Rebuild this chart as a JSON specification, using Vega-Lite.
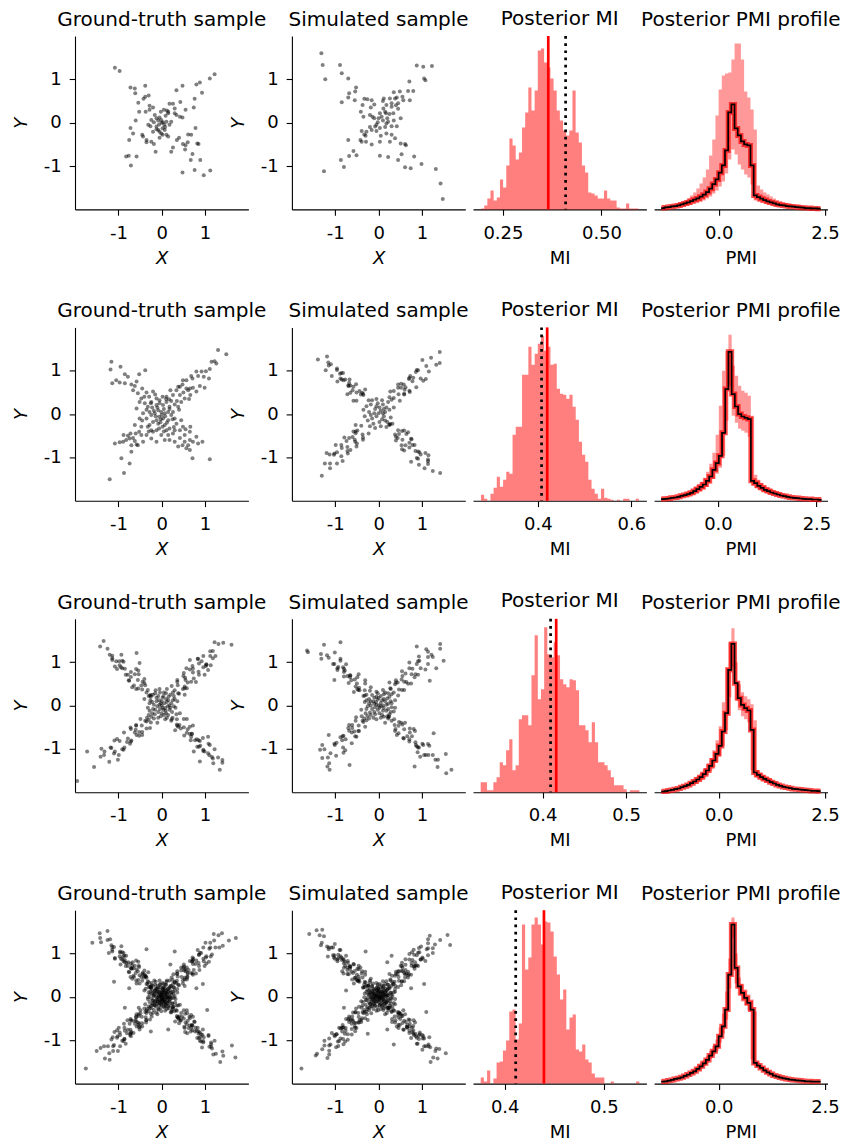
{
"$schema":"https://vega.github.io/schema/vega-lite/v6.json",
"padding":{"left":12,"top":8,"right":5,"bottom":5},
"config":{"font":"DejaVu Sans","view":{"stroke":null},
"axis":{"domainColor":"#000","domainWidth":1.1,"tickColor":"#000","tickWidth":1.1,"tickSize":5.8,"labelFontSize":18,"labelColor":"#000","titleFontSize":18,"titleColor":"#000","titleFontWeight":"normal","grid":false,"labelFont":"DejaVu Sans","titleFont":"DejaVu Sans","labelFlush":false,"labelOverlap":false},
"axisX":{"labelPadding":9,"titlePadding":7},
"axisY":{"labelPadding":8,"titlePadding":13},
"title":{"fontSize":20,"fontWeight":"normal","font":"DejaVu Sans","color":"#000","anchor":"middle","frame":"group","baseline":"alphabetic","offset":6},
"circle":{"color":"#000","opacity":0.5,"size":16,"strokeWidth":0}},
"vconcat":[
{"hconcat":[
{"title":"Ground-truth sample","width":173.4,"height":173.4,"data":{"values":[{"x":-1.08,"y":1.27},{"x":-0.97,"y":1.19},{"x":-0.72,"y":0.81},{"x":-0.62,"y":0.79},{"x":-0.61,"y":0.68},{"x":-0.38,"y":0.85},{"x":-0.54,"y":0.46},{"x":-0.42,"y":0.55},{"x":-0.3,"y":0.63},{"x":-0.28,"y":0.39},{"x":-0.37,"y":0.25},{"x":-0.52,"y":0.25},{"x":0.8,"y":0.88},{"x":0.88,"y":0.93},{"x":1.11,"y":1.02},{"x":1.22,"y":1.12},{"x":0.48,"y":0.85},{"x":0.34,"y":0.75},{"x":0.93,"y":0.69},{"x":0.76,"y":0.55},{"x":0.74,"y":0.35},{"x":0.43,"y":0.48},{"x":0.26,"y":0.44},{"x":0.18,"y":0.44},{"x":0.3,"y":0.33},{"x":0.15,"y":0.25},{"x":0.42,"y":0.14},{"x":0.48,"y":0.12},{"x":0.34,"y":0.18},{"x":-0.72,"y":-0.12},{"x":-0.66,"y":-0.25},{"x":-0.75,"y":-0.4},{"x":-0.82,"y":-0.78},{"x":-0.76,"y":-0.76},{"x":-0.58,"y":-0.78},{"x":-0.71,"y":-0.99},{"x":-0.35,"y":-0.4},{"x":-0.24,"y":-0.44},{"x":-0.35,"y":-0.45},{"x":-0.18,"y":-0.49},{"x":-0.14,"y":-0.67},{"x":-0.43,"y":-0.32},{"x":0.78,"y":-0.12},{"x":0.61,"y":-0.27},{"x":0.68,"y":-0.28},{"x":0.82,"y":-0.48},{"x":0.49,"y":-0.49},{"x":0.54,"y":-0.62},{"x":0.55,"y":-0.52},{"x":0.26,"y":-0.57},{"x":0.22,"y":-0.67},{"x":0.85,"y":-0.49},{"x":0.71,"y":-0.72},{"x":0.67,"y":-0.86},{"x":0.89,"y":-0.86},{"x":0.48,"y":-1.15},{"x":0.76,"y":-1.09},{"x":0.97,"y":-1.21},{"x":1.12,"y":-1.1},{"x":-0.24,"y":0.06},{"x":-0.12,"y":0.1},{"x":-0.05,"y":0.12},{"x":-0.01,"y":0.06},{"x":0.03,"y":0.01},{"x":-0.06,"y":-0.04},{"x":-0.12,"y":-0.09},{"x":0.02,"y":-0.13},{"x":0.07,"y":-0.17},{"x":-0.05,"y":-0.21},{"x":-0.01,"y":-0.25},{"x":0.11,"y":0.02},{"x":0.18,"y":-0.05},{"x":-0.16,"y":0.18},{"x":-0.18,"y":0.01},{"x":-0.26,"y":-0.08},{"x":-0.31,"y":-0.05},{"x":-0.2,"y":-0.21},{"x":-0.08,"y":-0.17},{"x":0.06,"y":-0.05},{"x":0.15,"y":0.22},{"x":0.09,"y":0.16},{"x":0.22,"y":0.02},{"x":0.3,"y":0.22},{"x":0.11,"y":-0.28},{"x":0.15,"y":-0.32},{"x":0.02,"y":-0.28},{"x":-0.45,"y":-0.28},{"x":-0.28,"y":0.3},{"x":-0.2,"y":0.35},{"x":0.05,"y":0.3},{"x":0.12,"y":0.28},{"x":-0.02,"y":0.25},{"x":0.35,"y":-0.4},{"x":0.4,"y":-0.35},{"x":-0.05,"y":-0.35},{"x":0,"y":0},{"x":-0.08,"y":0.05},{"x":0.08,"y":-0.1},{"x":0.6,"y":-0.45},{"x":0.55,"y":0.3},{"x":-0.6,"y":0.05},{"x":-0.38,"y":0.6},{"x":-0.12,"y":-0.15}]},
"mark":{"type":"circle"},
"encoding":{"x":{"field":"x","type":"quantitative","scale":{"domain":[-2,2],"nice":false,"zero":false},"axis":{"values":[-1,0,1],"title":"X","titleFontStyle":"italic","labelExpr":"replace(datum.label,'−','-')"}},"y":{"field":"y","type":"quantitative","scale":{"domain":[-2,2],"nice":false,"zero":false},"axis":{"values":[-1,0,1],"title":"Y","titleFontStyle":"italic","labelExpr":"replace(datum.label,'−','-')"}}}},
{"hconcat":[
{"title":"Simulated sample","width":173.4,"height":173.4,"data":{"values":[{"x":-1.32,"y":1.6},{"x":-1.29,"y":1.33},{"x":-1.23,"y":1},{"x":-0.89,"y":1.33},{"x":-0.85,"y":1.14},{"x":-0.7,"y":1.02},{"x":-0.52,"y":0.81},{"x":-0.54,"y":0.72},{"x":-0.68,"y":0.68},{"x":-0.7,"y":0.58},{"x":-0.85,"y":0.47},{"x":-0.55,"y":0.52},{"x":-0.33,"y":0.55},{"x":-0.26,"y":0.54},{"x":-0.37,"y":0.41},{"x":-0.16,"y":0.52},{"x":-0.1,"y":0.42},{"x":-0.18,"y":0.35},{"x":-0.41,"y":0.25},{"x":-0.35,"y":0.14},{"x":-0.2,"y":0.18},{"x":-0.14,"y":0.14},{"x":0.88,"y":1.32},{"x":1.03,"y":1.29},{"x":1.23,"y":1.31},{"x":1.05,"y":1.02},{"x":1.08,"y":0.98},{"x":0.71,"y":0.95},{"x":0.68,"y":0.73},{"x":0.8,"y":0.73},{"x":0.49,"y":0.72},{"x":0.35,"y":0.7},{"x":0.42,"y":0.58},{"x":0.26,"y":0.56},{"x":0.38,"y":0.56},{"x":0.57,"y":0.52},{"x":0.72,"y":0.52},{"x":0.12,"y":0.56},{"x":0.18,"y":0.41},{"x":0.3,"y":0.37},{"x":0.45,"y":0.32},{"x":0.34,"y":0.22},{"x":0.15,"y":0.25},{"x":0.07,"y":0.14},{"x":0.22,"y":0.02},{"x":0.18,"y":-0.02},{"x":-0.02,"y":0.01},{"x":-0.08,"y":-0.09},{"x":-0.05,"y":-0.05},{"x":0.03,"y":-0.12},{"x":-0.16,"y":-0.17},{"x":-0.28,"y":-0.21},{"x":-0.39,"y":-0.19},{"x":-0.33,"y":-0.27},{"x":-0.42,"y":-0.4},{"x":-0.39,"y":-0.44},{"x":-0.29,"y":-0.44},{"x":-0.16,"y":-0.5},{"x":0.03,"y":-0.44},{"x":0.18,"y":-0.25},{"x":0.3,"y":-0.08},{"x":0.42,"y":-0.08},{"x":0.3,"y":-0.28},{"x":0.38,"y":-0.36},{"x":0.51,"y":-0.48},{"x":0.61,"y":-0.49},{"x":0.63,"y":-0.52},{"x":0.26,"y":-0.44},{"x":0.53,"y":-0.73},{"x":0.45,"y":-0.86},{"x":0.61,"y":-1.03},{"x":0.74,"y":-1.05},{"x":0.82,"y":-0.78},{"x":0.99,"y":-0.95},{"x":1.32,"y":-1.07},{"x":1.43,"y":-1.4},{"x":1.48,"y":-1.76},{"x":0.03,"y":-0.76},{"x":0.22,"y":-0.79},{"x":-0.7,"y":-0.4},{"x":-0.58,"y":-0.65},{"x":-0.51,"y":-0.75},{"x":-0.68,"y":-0.77},{"x":-0.87,"y":-0.86},{"x":-0.8,"y":-1.02},{"x":-1.26,"y":-1.12},{"x":0.51,"y":0.1},{"x":-0.05,"y":-0.19},{"x":0.11,"y":0.33},{"x":0.17,"y":0.22},{"x":0.03,"y":0.22},{"x":0,"y":0.1},{"x":0.1,"y":0.05},{"x":0.2,"y":0.1},{"x":0.15,"y":-0.1},{"x":-0.1,"y":0.1},{"x":0.05,"y":-0.3},{"x":0.25,"y":0.2},{"x":0.4,"y":0.4},{"x":-0.2,"y":-0.1},{"x":0.35,"y":0.05},{"x":0.45,"y":0.45},{"x":0.3,"y":0.45},{"x":0.1,"y":0.5},{"x":-0.3,"y":-0.3},{"x":0.55,"y":0.6}]},
"mark":{"type":"circle"},
"encoding":{"x":{"field":"x","type":"quantitative","scale":{"domain":[-2,2],"nice":false,"zero":false},"axis":{"values":[-1,0,1],"title":"X","titleFontStyle":"italic","labelExpr":"replace(datum.label,'−','-')"}},"y":{"field":"y","type":"quantitative","scale":{"domain":[-2,2],"nice":false,"zero":false},"axis":{"values":[-1,0,1],"title":"Y","titleFontStyle":"italic","labelExpr":"replace(datum.label,'−','-')"}}}},
{"title":"Posterior MI","width":173.4,"height":173.4,"layer":[
{"data":{"values":[{"e":0.1944,"n":1},{"e":0.2024,"n":4},{"e":0.2104,"n":11},{"e":0.2184,"n":19},{"e":0.2264,"n":9},{"e":0.2344,"n":12},{"e":0.2424,"n":30},{"e":0.2504,"n":22},{"e":0.2584,"n":44},{"e":0.2664,"n":71},{"e":0.2744,"n":64},{"e":0.2824,"n":50},{"e":0.2904,"n":57},{"e":0.2984,"n":82},{"e":0.3064,"n":97},{"e":0.3144,"n":122},{"e":0.3224,"n":99},{"e":0.3304,"n":119},{"e":0.3384,"n":159},{"e":0.3464,"n":161},{"e":0.3544,"n":147},{"e":0.3624,"n":142},{"e":0.3704,"n":131},{"e":0.3784,"n":119},{"e":0.3864,"n":99},{"e":0.3944,"n":89},{"e":0.4024,"n":79},{"e":0.4104,"n":74},{"e":0.4184,"n":79},{"e":0.4264,"n":119},{"e":0.4344,"n":77},{"e":0.4424,"n":67},{"e":0.4504,"n":44},{"e":0.4584,"n":37},{"e":0.4664,"n":17},{"e":0.4744,"n":16},{"e":0.4824,"n":14},{"e":0.4904,"n":11},{"e":0.4984,"n":11},{"e":0.5064,"n":19},{"e":0.5144,"n":11},{"e":0.5224,"n":9},{"e":0.5304,"n":9},{"e":0.5384,"n":2},{"e":0.5464,"n":1},{"e":0.5544,"n":1},{"e":0.5624,"n":6},{"e":0.5704,"n":1},{"e":0.5784,"n":1},{"e":0.5864,"n":1},{"e":0.5944,"n":1}]},
"mark":{"type":"area","interpolate":"step-after","color":"#ff0000","opacity":0.5},
"encoding":{"x":{"field":"e","type":"quantitative","scale":{"domain":[0.174,0.614],"nice":false,"zero":false},"axis":{"values":[0.25,0.5],"format":".2f","title":"MI"}},"y":{"field":"n","type":"quantitative","scale":{"domain":[0,173.4],"nice":false},"axis":null}}},
{"data":{"values":[{"m":0.365}]},"mark":{"type":"rule","color":"#ff0000","strokeWidth":2.7},"encoding":{"x":{"field":"m","type":"quantitative"}}},
{"data":{"values":[{"m":0.409}]},"mark":{"type":"rule","color":"#000","strokeWidth":2.7,"strokeDash":[2.7,4.5]},"encoding":{"x":{"field":"m","type":"quantitative"}}}]},
{"title":"Posterior PMI profile","width":173.4,"height":173.4,
"data":{"values":[{"v":-1.352,"k":1.3,"lo":0.7,"hi":2.2},{"v":-1.277,"k":2,"lo":1,"hi":3},{"v":-1.202,"k":2.3,"lo":1.2,"hi":3.5},{"v":-1.127,"k":3,"lo":1.6,"hi":4.3},{"v":-1.052,"k":3.3,"lo":1.8,"hi":5},{"v":-0.977,"k":4,"lo":2.2,"hi":6.5},{"v":-0.902,"k":5,"lo":2.8,"hi":7.5},{"v":-0.827,"k":6,"lo":3.4,"hi":9},{"v":-0.752,"k":7,"lo":4,"hi":11},{"v":-0.677,"k":8.3,"lo":4.8,"hi":14},{"v":-0.602,"k":9.7,"lo":5.6,"hi":17},{"v":-0.527,"k":11,"lo":6.5,"hi":21},{"v":-0.452,"k":12.7,"lo":7.5,"hi":26},{"v":-0.377,"k":14.7,"lo":9,"hi":32},{"v":-0.302,"k":17.3,"lo":11,"hi":40},{"v":-0.227,"k":20.7,"lo":13,"hi":54},{"v":-0.152,"k":25.3,"lo":16,"hi":70},{"v":-0.077,"k":30,"lo":19,"hi":94},{"v":-0.002,"k":36.7,"lo":23,"hi":120},{"v":0.073,"k":44,"lo":28,"hi":134},{"v":0.148,"k":59,"lo":36,"hi":136},{"v":0.223,"k":97,"lo":50,"hi":137},{"v":0.298,"k":105,"lo":60,"hi":150},{"v":0.373,"k":81,"lo":55,"hi":166},{"v":0.448,"k":74,"lo":45,"hi":166},{"v":0.523,"k":68,"lo":40,"hi":150},{"v":0.598,"k":65,"lo":35,"hi":118},{"v":0.673,"k":64,"lo":32,"hi":112},{"v":0.748,"k":44,"lo":25,"hi":100},{"v":0.823,"k":14,"lo":9,"hi":80},{"v":0.898,"k":12.3,"lo":7.5,"hi":24},{"v":0.973,"k":10.7,"lo":6.5,"hi":20},{"v":1.048,"k":9.3,"lo":5.8,"hi":17},{"v":1.123,"k":8,"lo":5,"hi":15},{"v":1.198,"k":7,"lo":4.3,"hi":13},{"v":1.273,"k":6,"lo":3.7,"hi":11},{"v":1.348,"k":5,"lo":3.2,"hi":9.5},{"v":1.423,"k":4.3,"lo":2.8,"hi":8.3},{"v":1.498,"k":4,"lo":2.4,"hi":7.2},{"v":1.573,"k":3.3,"lo":2,"hi":6.3},{"v":1.648,"k":3,"lo":1.8,"hi":5.6},{"v":1.723,"k":2.7,"lo":1.6,"hi":4.9},{"v":1.798,"k":2.3,"lo":1.4,"hi":4.3},{"v":1.873,"k":2,"lo":1.2,"hi":3.8},{"v":1.948,"k":1.7,"lo":1,"hi":3.4},{"v":2.023,"k":1.3,"lo":0.8,"hi":3},{"v":2.098,"k":1.3,"lo":0.7,"hi":2.7},{"v":2.173,"k":1,"lo":0.6,"hi":2.4},{"v":2.248,"k":1,"lo":0.5,"hi":2.1},{"v":2.323,"k":0.7,"lo":0.4,"hi":1.9},{"v":2.398,"k":0.7,"lo":0.4,"hi":1.9}]},
"encoding":{"x":{"field":"v","type":"quantitative","scale":{"domain":[-1.52,2.56],"nice":false,"zero":false},"axis":{"values":[0,2.5],"format":".1f","title":"PMI"}}},
"layer":[
{"mark":{"type":"area","interpolate":"step-after","color":"#ff0000","opacity":0.4},"encoding":{"y":{"field":"hi","type":"quantitative","scale":{"domain":[0,173.4],"nice":false},"axis":null},"y2":{"field":"lo"}}},
{"mark":{"type":"line","interpolate":"step-after","color":"#ff0000","strokeWidth":5,"opacity":0.7},"encoding":{"y":{"field":"k","type":"quantitative","axis":null}}},
{"mark":{"type":"line","interpolate":"step-after","color":"#000","strokeWidth":1.7},"encoding":{"y":{"field":"k","type":"quantitative","axis":null}}}]}
],"spacing":7.1,"bounds":"flush"}
],"spacing":42.9,"bounds":"flush"},
{"hconcat":[
{"title":"Ground-truth sample","width":173.4,"height":173.4,"data":{"values":[{"x":1.3,"y":1.48},{"x":1.49,"y":1.38},{"x":1.15,"y":1.21},{"x":1.22,"y":1.22},{"x":1.26,"y":1.17},{"x":1.11,"y":1.04},{"x":1.02,"y":0.99},{"x":0.92,"y":0.98},{"x":0.8,"y":0.98},{"x":0.97,"y":0.86},{"x":1.09,"y":0.82},{"x":0.84,"y":0.88},{"x":0.68,"y":0.88},{"x":0.71,"y":0.82},{"x":0.57,"y":0.78},{"x":0.49,"y":0.78},{"x":0.48,"y":0.68},{"x":0.42,"y":0.63},{"x":0.34,"y":0.55},{"x":0.2,"y":0.55},{"x":0.26,"y":0.44},{"x":0.11,"y":0.4},{"x":0.17,"y":0.34},{"x":0.42,"y":0.44},{"x":0.53,"y":0.36},{"x":0.63,"y":0.35},{"x":0.61,"y":0.55},{"x":0.38,"y":0.63},{"x":0.57,"y":0.59},{"x":0.65,"y":0.59},{"x":0.72,"y":0.61},{"x":0.99,"y":0.61},{"x":0.88,"y":0.65},{"x":0.8,"y":0.52},{"x":0.66,"y":0.44},{"x":0.45,"y":0.28},{"x":0.3,"y":0.22},{"x":0.38,"y":0.17},{"x":-1.16,"y":1.21},{"x":-1.18,"y":1.03},{"x":-0.95,"y":1.09},{"x":-0.85,"y":0.92},{"x":-0.78,"y":0.86},{"x":-1.14,"y":0.71},{"x":-1.05,"y":0.78},{"x":-0.97,"y":0.73},{"x":-0.85,"y":0.71},{"x":-0.7,"y":0.68},{"x":-0.62,"y":0.65},{"x":-0.52,"y":0.92},{"x":-0.38,"y":1.01},{"x":-0.58,"y":0.75},{"x":-0.66,"y":0.55},{"x":-0.55,"y":0.48},{"x":-0.47,"y":0.36},{"x":-0.35,"y":0.5},{"x":-0.45,"y":0.59},{"x":-0.29,"y":0.4},{"x":-0.2,"y":0.52},{"x":-0.51,"y":0.28},{"x":-0.39,"y":0.25},{"x":-0.58,"y":0.13},{"x":-0.32,"y":0.17},{"x":-0.24,"y":0.28},{"x":-0.12,"y":0.36},{"x":-0.12,"y":0.21},{"x":-0.05,"y":0.25},{"x":0.03,"y":0.21},{"x":0.11,"y":0.28},{"x":0.18,"y":0.17},{"x":-0.08,"y":0.09},{"x":-0.01,"y":0.05},{"x":0.07,"y":0.02},{"x":-0.16,"y":0.02},{"x":-0.24,"y":-0.02},{"x":-0.06,"y":-0.06},{"x":0.03,"y":-0.1},{"x":-0.12,"y":-0.14},{"x":-0.03,"y":-0.19},{"x":0.07,"y":-0.25},{"x":0.15,"y":-0.14},{"x":0.22,"y":-0.02},{"x":-0.2,"y":-0.18},{"x":-0.28,"y":-0.25},{"x":-0.35,"y":-0.1},{"x":0.02,"y":-0.29},{"x":-0.06,"y":-0.33},{"x":-0.12,"y":-0.37},{"x":0.11,"y":-0.37},{"x":0.18,"y":-0.33},{"x":-0.2,"y":-0.41},{"x":-0.28,"y":0.05},{"x":-0.43,"y":0.02},{"x":0.26,"y":0.05},{"x":0.3,"y":-0.1},{"x":0.34,"y":-0.22},{"x":-1.2,"y":-1.5},{"x":-0.87,"y":-1.36},{"x":-0.74,"y":-1.14},{"x":-0.93,"y":-1.02},{"x":-0.7,"y":-0.87},{"x":-1.08,"y":-0.68},{"x":-0.97,"y":-0.65},{"x":-0.89,"y":-0.64},{"x":-0.82,"y":-0.6},{"x":-0.88,"y":-0.48},{"x":-0.78,"y":-0.5},{"x":-0.72,"y":-0.45},{"x":-0.74,"y":-0.56},{"x":-0.66,"y":-0.55},{"x":-0.58,"y":-0.7},{"x":-0.62,"y":-0.62},{"x":-0.7,"y":-0.72},{"x":-0.52,"y":-0.41},{"x":-0.43,"y":-0.64},{"x":-0.35,"y":-0.48},{"x":-0.47,"y":-0.48},{"x":-0.24,"y":-0.56},{"x":-0.12,"y":-0.64},{"x":-0.24,"y":-0.37},{"x":-0.62,"y":-0.25},{"x":-0.47,"y":-0.29},{"x":-0.32,"y":-0.29},{"x":-0.51,"y":-0.1},{"x":-0.55,"y":-0.72},{"x":1.11,"y":-1.04},{"x":0.71,"y":-1.02},{"x":0.94,"y":-0.64},{"x":0.84,"y":-0.68},{"x":0.65,"y":-0.6},{"x":0.66,"y":-0.29},{"x":0.65,"y":-0.41},{"x":0.53,"y":-0.48},{"x":0.42,"y":-0.55},{"x":0.3,"y":-0.64},{"x":0.18,"y":-0.6},{"x":0.38,"y":-0.75},{"x":0.48,"y":-0.72},{"x":0.57,"y":-0.79},{"x":0.65,"y":-0.83},{"x":0.61,"y":-0.72},{"x":0.53,"y":-0.64},{"x":0.26,"y":-0.45},{"x":0.15,"y":-0.48},{"x":0.42,"y":-0.37},{"x":0.49,"y":-0.29},{"x":0.3,"y":-0.37},{"x":0.45,"y":-0.14},{"x":0.72,"y":-0.64},{"x":0.07,"y":-0.6},{"x":-0.01,"y":-0.48},{"x":0.8,"y":-0.52},{"x":0.05,"y":0.12},{"x":-0.1,"y":0.15},{"x":0.15,"y":0.05},{"x":-0.18,"y":0.08},{"x":0,"y":-0.02},{"x":-0.05,"y":0.32},{"x":0.22,"y":0.3},{"x":0.08,"y":-0.05},{"x":-0.14,"y":-0.05},{"x":0.12,"y":-0.2},{"x":-0.22,"y":0.15},{"x":0.35,"y":0.3},{"x":-0.4,"y":0.4},{"x":0.28,"y":-0.3},{"x":-0.3,"y":-0.4},{"x":0.02,"y":0.4},{"x":-0.08,"y":-0.22},{"x":0.18,"y":0.12},{"x":-0.25,"y":0.25},{"x":0.4,"y":0.1},{"x":0.1,"y":0.35},{"x":-0.02,"y":-0.12},{"x":-0.35,"y":0.1},{"x":0.25,"y":-0.12},{"x":-0.45,"y":-0.15},{"x":0.05,"y":-0.4},{"x":-0.15,"y":0.45},{"x":0.5,"y":0.5},{"x":-0.6,"y":-0.45},{"x":0.55,"y":-0.35}]},
"mark":{"type":"circle"},
"encoding":{"x":{"field":"x","type":"quantitative","scale":{"domain":[-2,2],"nice":false,"zero":false},"axis":{"values":[-1,0,1],"title":"X","titleFontStyle":"italic","labelExpr":"replace(datum.label,'−','-')"}},"y":{"field":"y","type":"quantitative","scale":{"domain":[-2,2],"nice":false,"zero":false},"axis":{"values":[-1,0,1],"title":"Y","titleFontStyle":"italic","labelExpr":"replace(datum.label,'−','-')"}}}},
{"hconcat":[
{"title":"Simulated sample","width":173.4,"height":173.4,"data":{"values":[{"x":-0.4,"y":-0.27},{"x":-0.23,"y":-0.45},{"x":-0.53,"y":-0.25},{"x":-0.37,"y":-0.47},{"x":-0.53,"y":-0.44},{"x":-0.36,"y":-0.59},{"x":-0.49,"y":-0.38},{"x":-0.36,"y":-0.54},{"x":-0.58,"y":-0.4},{"x":-0.68,"y":-0.55},{"x":-0.5,"y":-0.68},{"x":-0.6,"y":-0.53},{"x":-0.51,"y":-0.75},{"x":-0.74,"y":-0.62},{"x":-0.72,"y":-0.76},{"x":-0.55,"y":-0.59},{"x":-0.85,"y":-0.78},{"x":-0.71,"y":-0.91},{"x":-0.86,"y":-0.71},{"x":-0.72,"y":-0.85},{"x":-0.99,"y":-0.71},{"x":-0.86,"y":-0.97},{"x":-1.02,"y":-0.91},{"x":-0.83,"y":-1.08},{"x":-1.03,"y":-0.94},{"x":-0.96,"y":-1.14},{"x":-1.13,"y":-0.93},{"x":-1.24,"y":-1.14},{"x":-1.12,"y":-1.25},{"x":-1.12,"y":-1.14},{"x":-1.31,"y":-1.42},{"x":-0.53,"y":-0.4},{"x":-0.54,"y":-0.64},{"x":-0.79,"y":-0.54},{"x":-0.65,"y":-0.83},{"x":-0.96,"y":-0.88},{"x":0.27,"y":-0.23},{"x":0.45,"y":-0.37},{"x":0.25,"y":-0.24},{"x":0.47,"y":-0.46},{"x":0.44,"y":-0.55},{"x":0.59,"y":-0.38},{"x":0.38,"y":-0.47},{"x":0.54,"y":-0.39},{"x":0.4,"y":-0.61},{"x":0.55,"y":-0.59},{"x":0.68,"y":-0.42},{"x":0.53,"y":-0.72},{"x":0.75,"y":-0.57},{"x":0.62,"y":-0.72},{"x":0.76,"y":-0.58},{"x":0.59,"y":-0.84},{"x":0.78,"y":-0.71},{"x":0.91,"y":-0.86},{"x":0.71,"y":-0.66},{"x":0.85,"y":-0.85},{"x":0.71,"y":-0.77},{"x":0.97,"y":-0.93},{"x":0.91,"y":-1.03},{"x":1.08,"y":-0.9},{"x":0.94,"y":-0.88},{"x":1.14,"y":-1.05},{"x":0.93,"y":-1.17},{"x":1.14,"y":-1.09},{"x":1.25,"y":-1.31},{"x":1.14,"y":-1.15},{"x":1.42,"y":-1.36},{"x":0.4,"y":-0.52},{"x":0.64,"y":-0.46},{"x":0.54,"y":-0.81},{"x":0.83,"y":-0.71},{"x":0.88,"y":-1.01},{"x":0.25,"y":0.39},{"x":0.35,"y":0.37},{"x":0.27,"y":0.52},{"x":0.49,"y":0.31},{"x":0.46,"y":0.46},{"x":0.3,"y":0.33},{"x":0.59,"y":0.47},{"x":0.45,"y":0.61},{"x":0.59,"y":0.45},{"x":0.45,"y":0.68},{"x":0.71,"y":0.54},{"x":0.58,"y":0.68},{"x":0.72,"y":0.51},{"x":0.52,"y":0.7},{"x":0.71,"y":0.83},{"x":0.62,"y":0.62},{"x":0.78,"y":0.76},{"x":0.87,"y":0.62},{"x":0.73,"y":0.88},{"x":0.7,"y":0.81},{"x":0.86,"y":0.97},{"x":0.97,"y":0.82},{"x":0.88,"y":1.02},{"x":1.09,"y":0.81},{"x":0.91,"y":1.01},{"x":1.1,"y":1.11},{"x":1.16,"y":0.98},{"x":1.01,"y":1.25},{"x":1.33,"y":1.14},{"x":1.21,"y":1.3},{"x":1.41,"y":1.18},{"x":0.35,"y":0.53},{"x":0.6,"y":0.56},{"x":0.52,"y":0.61},{"x":0.8,"y":0.84},{"x":1.03,"y":0.77},{"x":-0.36,"y":0.47},{"x":-0.23,"y":0.32},{"x":-0.38,"y":0.49},{"x":-0.51,"y":0.31},{"x":-0.35,"y":0.44},{"x":-0.58,"y":0.31},{"x":-0.44,"y":0.53},{"x":-0.58,"y":0.63},{"x":-0.41,"y":0.45},{"x":-0.6,"y":0.55},{"x":-0.72,"y":0.46},{"x":-0.52,"y":0.69},{"x":-0.65,"y":0.66},{"x":-0.51,"y":0.5},{"x":-0.77,"y":0.8},{"x":-0.69,"y":0.65},{"x":-0.85,"y":0.8},{"x":-0.7,"y":0.66},{"x":-0.89,"y":0.93},{"x":-0.67,"y":0.8},{"x":-0.86,"y":0.95},{"x":-0.95,"y":0.75},{"x":-0.82,"y":0.95},{"x":-1.08,"y":0.88},{"x":-0.96,"y":1.05},{"x":-1.1,"y":1.15},{"x":-0.96,"y":1.02},{"x":-1.22,"y":1.01},{"x":-1.16,"y":1.19},{"x":-1.19,"y":1.33},{"x":-1.4,"y":1.26},{"x":-0.31,"y":0.57},{"x":-0.65,"y":0.49},{"x":-0.68,"y":0.72},{"x":-0.88,"y":0.82},{"x":-0.81,"y":0.78},{"x":1.41,"y":1.43},{"x":-1.15,"y":1.12},{"x":1.06,"y":-1.25},{"x":-1.2,"y":-0.9},{"x":0.75,"y":-1.1},{"x":1.15,"y":-0.95},{"x":0.05,"y":0.08},{"x":-0.08,"y":0.12},{"x":0.12,"y":-0.05},{"x":-0.15,"y":-0.1},{"x":0.02,"y":-0.18},{"x":0.18,"y":0.15},{"x":-0.22,"y":0.05},{"x":0.1,"y":0.22},{"x":-0.05,"y":-0.05},{"x":0.2,"y":-0.18},{"x":-0.18,"y":0.22},{"x":0,"y":0.02},{"x":0.08,"y":-0.12},{"x":-0.12,"y":-0.22},{"x":0.15,"y":0.05},{"x":-0.25,"y":-0.15},{"x":0.22,"y":0.28},{"x":-0.02,"y":0.25},{"x":0.28,"y":-0.08},{"x":-0.28,"y":0.18},{"x":0.12,"y":0.12},{"x":-0.1,"y":0.02},{"x":0.05,"y":-0.28},{"x":-0.2,"y":-0.28},{"x":0.25,"y":0.1},{"x":-0.05,"y":0.35},{"x":0.32,"y":-0.22},{"x":-0.32,"y":-0.05},{"x":0.02,"y":0.15},{"x":-0.15,"y":0.32},{"x":0.18,"y":-0.3},{"x":0.08,"y":0.32},{"x":-0.08,"y":-0.32},{"x":0.35,"y":0.15},{"x":-0.35,"y":0.1},{"x":0.15,"y":-0.15},{"x":-0.05,"y":0.18},{"x":0.1,"y":0.02},{"x":-0.18,"y":-0.02},{"x":0.25,"y":-0.25}]},
"mark":{"type":"circle"},
"encoding":{"x":{"field":"x","type":"quantitative","scale":{"domain":[-2,2],"nice":false,"zero":false},"axis":{"values":[-1,0,1],"title":"X","titleFontStyle":"italic","labelExpr":"replace(datum.label,'−','-')"}},"y":{"field":"y","type":"quantitative","scale":{"domain":[-2,2],"nice":false,"zero":false},"axis":{"values":[-1,0,1],"title":"Y","titleFontStyle":"italic","labelExpr":"replace(datum.label,'−','-')"}}}},
{"title":"Posterior MI","width":173.4,"height":173.4,"layer":[
{"data":{"values":[{"e":0.2785,"n":6},{"e":0.2853,"n":2},{"e":0.292,"n":0},{"e":0.2988,"n":7},{"e":0.3055,"n":13},{"e":0.3123,"n":24},{"e":0.319,"n":14},{"e":0.3258,"n":21},{"e":0.3325,"n":29},{"e":0.3393,"n":27},{"e":0.346,"n":66},{"e":0.3528,"n":74},{"e":0.3595,"n":74},{"e":0.3663,"n":126},{"e":0.373,"n":126},{"e":0.3798,"n":154},{"e":0.3865,"n":136},{"e":0.3933,"n":147},{"e":0.4,"n":157},{"e":0.4068,"n":165},{"e":0.4135,"n":150},{"e":0.4203,"n":154},{"e":0.427,"n":136},{"e":0.4338,"n":137},{"e":0.4405,"n":112},{"e":0.4473,"n":107},{"e":0.454,"n":106},{"e":0.4608,"n":102},{"e":0.4675,"n":106},{"e":0.4743,"n":94},{"e":0.481,"n":81},{"e":0.4878,"n":59},{"e":0.4945,"n":46},{"e":0.5013,"n":39},{"e":0.508,"n":21},{"e":0.5148,"n":12},{"e":0.5215,"n":7},{"e":0.5283,"n":2},{"e":0.535,"n":12},{"e":0.5418,"n":3},{"e":0.5485,"n":2},{"e":0.5553,"n":1},{"e":0.562,"n":0},{"e":0.5688,"n":1},{"e":0.5755,"n":0},{"e":0.5823,"n":2},{"e":0.589,"n":2},{"e":0.5958,"n":0},{"e":0.6025,"n":0},{"e":0.6093,"n":2},{"e":0.616,"n":2}]},
"mark":{"type":"area","interpolate":"step-after","color":"#ff0000","opacity":0.5},
"encoding":{"x":{"field":"e","type":"quantitative","scale":{"domain":[0.2615,0.632],"nice":false,"zero":false},"axis":{"values":[0.4,0.6],"format":".1f","title":"MI"}},"y":{"field":"n","type":"quantitative","scale":{"domain":[0,173.4],"nice":false},"axis":null}}},
{"data":{"values":[{"m":0.42}]},"mark":{"type":"rule","color":"#ff0000","strokeWidth":2.7},"encoding":{"x":{"field":"m","type":"quantitative"}}},
{"data":{"values":[{"m":0.408}]},"mark":{"type":"rule","color":"#000","strokeWidth":2.7,"strokeDash":[2.7,4.5]},"encoding":{"x":{"field":"m","type":"quantitative"}}}]},
{"title":"Posterior PMI profile","width":173.4,"height":173.4,
"data":{"values":[{"v":-1.443,"k":1.7,"lo":1,"hi":2.6},{"v":-1.362,"k":2,"lo":1.2,"hi":3},{"v":-1.28,"k":2.3,"lo":1.4,"hi":3.4},{"v":-1.199,"k":3,"lo":1.8,"hi":4.2},{"v":-1.117,"k":3.3,"lo":2,"hi":4.7},{"v":-1.036,"k":4,"lo":2.5,"hi":5.6},{"v":-0.955,"k":5,"lo":3.2,"hi":7},{"v":-0.873,"k":5.7,"lo":3.7,"hi":8},{"v":-0.792,"k":6.7,"lo":4.4,"hi":9.4},{"v":-0.71,"k":8,"lo":5.3,"hi":11},{"v":-0.629,"k":9.7,"lo":6.4,"hi":13.5},{"v":-0.548,"k":11.7,"lo":7.8,"hi":16},{"v":-0.466,"k":14,"lo":9.5,"hi":19},{"v":-0.385,"k":16.3,"lo":11,"hi":23},{"v":-0.303,"k":20,"lo":14,"hi":29},{"v":-0.222,"k":24.3,"lo":17,"hi":37},{"v":-0.141,"k":31,"lo":22,"hi":48},{"v":-0.059,"k":37.7,"lo":27,"hi":66},{"v":0.022,"k":45,"lo":33,"hi":95},{"v":0.104,"k":68,"lo":45,"hi":130},{"v":0.185,"k":111.7,"lo":80,"hi":150},{"v":0.266,"k":149,"lo":115,"hi":166},{"v":0.348,"k":106.7,"lo":85,"hi":135},{"v":0.429,"k":94.3,"lo":78,"hi":125},{"v":0.511,"k":86.7,"lo":72,"hi":115},{"v":0.592,"k":84.3,"lo":70,"hi":110},{"v":0.673,"k":83,"lo":68,"hi":108},{"v":0.755,"k":81.7,"lo":64,"hi":105},{"v":0.836,"k":20,"lo":15,"hi":85},{"v":0.918,"k":17.7,"lo":13,"hi":26},{"v":0.999,"k":15,"lo":11,"hi":21},{"v":1.08,"k":13,"lo":9.5,"hi":18},{"v":1.162,"k":11,"lo":8,"hi":15.5},{"v":1.243,"k":9.7,"lo":7,"hi":13.5},{"v":1.325,"k":8.3,"lo":6,"hi":11.5},{"v":1.406,"k":7.3,"lo":5.3,"hi":10},{"v":1.487,"k":6.3,"lo":4.6,"hi":8.8},{"v":1.569,"k":5.3,"lo":3.9,"hi":7.5},{"v":1.65,"k":4.7,"lo":3.4,"hi":6.6},{"v":1.732,"k":4,"lo":2.9,"hi":5.7},{"v":1.813,"k":3.3,"lo":2.4,"hi":4.8},{"v":1.894,"k":3,"lo":2.2,"hi":4.3},{"v":1.976,"k":2.7,"lo":1.9,"hi":3.9},{"v":2.057,"k":2.3,"lo":1.6,"hi":3.4},{"v":2.139,"k":2,"lo":1.4,"hi":3},{"v":2.22,"k":1.7,"lo":1.2,"hi":2.6},{"v":2.301,"k":1.7,"lo":1.1,"hi":2.5},{"v":2.383,"k":1.3,"lo":0.9,"hi":2.1},{"v":2.464,"k":1.3,"lo":0.8,"hi":2},{"v":2.546,"k":1,"lo":0.6,"hi":1.7},{"v":2.627,"k":1,"lo":0.6,"hi":1.7}]},
"encoding":{"x":{"field":"v","type":"quantitative","scale":{"domain":[-1.62,2.78],"nice":false,"zero":false},"axis":{"values":[0,2.5],"format":".1f","title":"PMI"}}},
"layer":[
{"mark":{"type":"area","interpolate":"step-after","color":"#ff0000","opacity":0.4},"encoding":{"y":{"field":"hi","type":"quantitative","scale":{"domain":[0,173.4],"nice":false},"axis":null},"y2":{"field":"lo"}}},
{"mark":{"type":"line","interpolate":"step-after","color":"#ff0000","strokeWidth":5,"opacity":0.7},"encoding":{"y":{"field":"k","type":"quantitative","axis":null}}},
{"mark":{"type":"line","interpolate":"step-after","color":"#000","strokeWidth":1.7},"encoding":{"y":{"field":"k","type":"quantitative","axis":null}}}]}
],"spacing":7.1,"bounds":"flush"}
],"spacing":42.9,"bounds":"flush"},
{"hconcat":[
{"title":"Ground-truth sample","width":173.4,"height":173.4,"data":{"values":[{"x":-0.05,"y":0.02},{"x":0.08,"y":-0.06},{"x":-0.12,"y":0.1},{"x":0.15,"y":0.12},{"x":-0.2,"y":-0.08},{"x":0.02,"y":0.18},{"x":0.1,"y":-0.18},{"x":-0.08,"y":-0.15},{"x":0.22,"y":0.05},{"x":-0.25,"y":0.2},{"x":0.18,"y":-0.1},{"x":-0.02,"y":-0.25},{"x":0.05,"y":0.3},{"x":-0.15,"y":0.28},{"x":0.28,"y":0.22},{"x":-0.3,"y":-0.22},{"x":0.25,"y":-0.28},{"x":-0.28,"y":0.05},{"x":0.12,"y":0.08},{"x":-0.1,"y":-0.02},{"x":0,"y":0.1},{"x":0.32,"y":-0.05},{"x":-0.35,"y":0.3},{"x":0.3,"y":0.35},{"x":-0.18,"y":-0.3},{"x":0.08,"y":-0.32},{"x":-0.05,"y":0.38},{"x":0.2,"y":0.25},{"x":-0.22,"y":-0.18},{"x":0.15,"y":-0.22},{"x":-0.12,"y":0.18},{"x":0.04,"y":-0.1},{"x":-0.32,"y":-0.05},{"x":0.36,"y":0.1},{"x":-0.08,"y":0.22},{"x":0.24,"y":-0.15},{"x":-0.26,"y":0.12},{"x":0.1,"y":0.15},{"x":-0.15,"y":-0.1},{"x":0.02,"y":-0.05},{"x":0.06,"y":0.05},{"x":-0.04,"y":-0.08},{"x":0.14,"y":-0.02},{"x":-0.18,"y":0.02},{"x":0,"y":-0.18},{"x":0.26,"y":0.3},{"x":-0.38,"y":-0.35},{"x":0.35,"y":-0.32},{"x":-0.32,"y":0.36},{"x":0.12,"y":0.38},{"x":-0.4,"y":0.15},{"x":0.42,"y":-0.18},{"x":-0.1,"y":-0.4},{"x":0.18,"y":0},{"x":-0.06,"y":0.12},{"x":0.09,"y":-0.12},{"x":-0.24,"y":-0.26},{"x":0.28,"y":-0.02},{"x":-0.14,"y":0.35},{"x":0.22,"y":-0.35},{"x":-0.02,"y":0.05},{"x":0.04,"y":0.22},{"x":-0.28,"y":-0.12},{"x":0.16,"y":0.2},{"x":-0.2,"y":0.25},{"x":0.3,"y":0.15},{"x":-0.34,"y":-0.28},{"x":0.38,"y":0.28},{"x":-0.08,"y":-0.28},{"x":0.1,"y":0.28},{"x":0,"y":0},{"x":-0.16,"y":-0.2},{"x":0.2,"y":-0.05},{"x":-0.3,"y":0.22},{"x":0.05,"y":-0.22},{"x":0.12,"y":-0.28},{"x":-0.22,"y":0.08},{"x":0.26,"y":0.12},{"x":-0.04,"y":0.3},{"x":0.34,"y":-0.2},{"x":0.4,"y":0.27},{"x":0.23,"y":0.45},{"x":0.53,"y":0.25},{"x":0.37,"y":0.47},{"x":0.53,"y":0.44},{"x":0.36,"y":0.59},{"x":0.49,"y":0.38},{"x":0.36,"y":0.54},{"x":0.58,"y":0.4},{"x":0.68,"y":0.55},{"x":0.5,"y":0.68},{"x":0.6,"y":0.53},{"x":0.51,"y":0.75},{"x":0.74,"y":0.62},{"x":0.72,"y":0.76},{"x":0.55,"y":0.59},{"x":0.85,"y":0.78},{"x":0.71,"y":0.91},{"x":0.86,"y":0.71},{"x":0.72,"y":0.85},{"x":0.99,"y":0.71},{"x":0.86,"y":0.97},{"x":1.02,"y":0.91},{"x":0.83,"y":1.08},{"x":1.03,"y":0.94},{"x":0.96,"y":1.14},{"x":1.13,"y":0.93},{"x":1.24,"y":1.14},{"x":1.12,"y":1.25},{"x":1.12,"y":1.14},{"x":1.31,"y":1.42},{"x":0.53,"y":0.4},{"x":0.54,"y":0.64},{"x":0.79,"y":0.54},{"x":0.65,"y":0.83},{"x":0.96,"y":0.88},{"x":-0.27,"y":0.23},{"x":-0.45,"y":0.37},{"x":-0.25,"y":0.24},{"x":-0.47,"y":0.46},{"x":-0.44,"y":0.55},{"x":-0.59,"y":0.38},{"x":-0.38,"y":0.47},{"x":-0.54,"y":0.39},{"x":-0.4,"y":0.61},{"x":-0.55,"y":0.59},{"x":-0.68,"y":0.42},{"x":-0.53,"y":0.72},{"x":-0.75,"y":0.57},{"x":-0.62,"y":0.72},{"x":-0.76,"y":0.58},{"x":-0.59,"y":0.84},{"x":-0.78,"y":0.71},{"x":-0.91,"y":0.86},{"x":-0.71,"y":0.66},{"x":-0.85,"y":0.85},{"x":-0.71,"y":0.77},{"x":-0.97,"y":0.93},{"x":-0.91,"y":1.03},{"x":-1.08,"y":0.9},{"x":-0.94,"y":0.88},{"x":-1.14,"y":1.05},{"x":-0.93,"y":1.17},{"x":-1.14,"y":1.09},{"x":-1.25,"y":1.31},{"x":-1.14,"y":1.15},{"x":-1.42,"y":1.36},{"x":-0.4,"y":0.52},{"x":-0.64,"y":0.46},{"x":-0.54,"y":0.81},{"x":-0.83,"y":0.71},{"x":-0.88,"y":1.01},{"x":-0.25,"y":-0.39},{"x":-0.35,"y":-0.37},{"x":-0.27,"y":-0.52},{"x":-0.49,"y":-0.31},{"x":-0.46,"y":-0.46},{"x":-0.3,"y":-0.33},{"x":-0.59,"y":-0.47},{"x":-0.45,"y":-0.61},{"x":-0.59,"y":-0.45},{"x":-0.45,"y":-0.68},{"x":-0.71,"y":-0.54},{"x":-0.58,"y":-0.68},{"x":-0.72,"y":-0.51},{"x":-0.52,"y":-0.7},{"x":-0.71,"y":-0.83},{"x":-0.62,"y":-0.62},{"x":-0.78,"y":-0.76},{"x":-0.87,"y":-0.62},{"x":-0.73,"y":-0.88},{"x":-0.7,"y":-0.81},{"x":-0.86,"y":-0.97},{"x":-0.97,"y":-0.82},{"x":-0.88,"y":-1.02},{"x":-1.09,"y":-0.81},{"x":-0.91,"y":-1.01},{"x":-1.1,"y":-1.11},{"x":-1.16,"y":-0.98},{"x":-1.01,"y":-1.25},{"x":-1.33,"y":-1.14},{"x":-1.21,"y":-1.3},{"x":-1.41,"y":-1.18},{"x":-0.35,"y":-0.53},{"x":-0.6,"y":-0.56},{"x":-0.52,"y":-0.61},{"x":-0.8,"y":-0.84},{"x":-1.03,"y":-0.77},{"x":0.36,"y":-0.47},{"x":0.23,"y":-0.32},{"x":0.38,"y":-0.49},{"x":0.51,"y":-0.31},{"x":0.35,"y":-0.44},{"x":0.58,"y":-0.31},{"x":0.44,"y":-0.53},{"x":0.58,"y":-0.63},{"x":0.41,"y":-0.45},{"x":0.6,"y":-0.55},{"x":0.72,"y":-0.46},{"x":0.52,"y":-0.69},{"x":0.65,"y":-0.66},{"x":0.51,"y":-0.5},{"x":0.77,"y":-0.8},{"x":0.69,"y":-0.65},{"x":0.85,"y":-0.8},{"x":0.7,"y":-0.66},{"x":0.89,"y":-0.93},{"x":0.67,"y":-0.8},{"x":0.86,"y":-0.95},{"x":0.95,"y":-0.75},{"x":0.82,"y":-0.95},{"x":1.08,"y":-0.88},{"x":0.96,"y":-1.05},{"x":1.1,"y":-1.15},{"x":0.96,"y":-1.02},{"x":1.22,"y":-1.01},{"x":1.16,"y":-1.19},{"x":1.19,"y":-1.33},{"x":1.4,"y":-1.26},{"x":0.31,"y":-0.57},{"x":0.65,"y":-0.49},{"x":0.68,"y":-0.72},{"x":0.88,"y":-0.82},{"x":0.81,"y":-0.78},{"x":-1.95,"y":-1.74},{"x":-1.72,"y":-1.06},{"x":-1.56,"y":-1.42},{"x":-1.39,"y":-1},{"x":-1.32,"y":-1.06},{"x":-1.18,"y":-0.97},{"x":-1.08,"y":-1.06},{"x":-0.99,"y":-1.14},{"x":-1.34,"y":1.49},{"x":-1.2,"y":1.17},{"x":-1.05,"y":1.02},{"x":-0.98,"y":1.02},{"x":-1.03,"y":0.84},{"x":-0.58,"y":1.21},{"x":-0.51,"y":0.98},{"x":1.22,"y":1.46},{"x":1.42,"y":1.45},{"x":1.61,"y":1.4},{"x":1.18,"y":1.26},{"x":1.18,"y":1.09},{"x":0.84,"y":1.07},{"x":0.92,"y":1.02},{"x":1.03,"y":0.95},{"x":1.07,"y":0.82},{"x":0.65,"y":1.05},{"x":0.57,"y":0.86},{"x":0.74,"y":-1.06},{"x":0.99,"y":-1.06},{"x":0.88,"y":-1.29},{"x":1.18,"y":-1.22},{"x":1.3,"y":-1.2},{"x":1.4,"y":-1.32},{"x":1.34,"y":-1.48},{"x":1.11,"y":-0.91},{"x":1.07,"y":-0.72},{"x":1.07,"y":-1.1}]},
"mark":{"type":"circle"},
"encoding":{"x":{"field":"x","type":"quantitative","scale":{"domain":[-2,2],"nice":false,"zero":false},"axis":{"values":[-1,0,1],"title":"X","titleFontStyle":"italic","labelExpr":"replace(datum.label,'−','-')"}},"y":{"field":"y","type":"quantitative","scale":{"domain":[-2,2],"nice":false,"zero":false},"axis":{"values":[-1,0,1],"title":"Y","titleFontStyle":"italic","labelExpr":"replace(datum.label,'−','-')"}}}},
{"hconcat":[
{"title":"Simulated sample","width":173.4,"height":173.4,"data":{"values":[{"y":-0.05,"x":0.02},{"y":0.08,"x":-0.06},{"y":-0.12,"x":0.1},{"y":0.15,"x":0.12},{"y":-0.2,"x":-0.08},{"y":0.02,"x":0.18},{"y":0.1,"x":-0.18},{"y":-0.08,"x":-0.15},{"y":0.22,"x":0.05},{"y":-0.25,"x":0.2},{"y":0.18,"x":-0.1},{"y":-0.02,"x":-0.25},{"y":0.05,"x":0.3},{"y":-0.15,"x":0.28},{"y":0.28,"x":0.22},{"y":-0.3,"x":-0.22},{"y":0.25,"x":-0.28},{"y":-0.28,"x":0.05},{"y":0.12,"x":0.08},{"y":-0.1,"x":-0.02},{"y":0,"x":0.1},{"y":0.32,"x":-0.05},{"y":-0.35,"x":0.3},{"y":0.3,"x":0.35},{"y":-0.18,"x":-0.3},{"y":0.08,"x":-0.32},{"y":-0.05,"x":0.38},{"y":0.2,"x":0.25},{"y":-0.22,"x":-0.18},{"y":0.15,"x":-0.22},{"y":-0.12,"x":0.18},{"y":0.04,"x":-0.1},{"y":-0.32,"x":-0.05},{"y":0.36,"x":0.1},{"y":-0.08,"x":0.22},{"y":0.24,"x":-0.15},{"y":-0.26,"x":0.12},{"y":0.1,"x":0.15},{"y":-0.15,"x":-0.1},{"y":0.02,"x":-0.05},{"y":0.06,"x":0.05},{"y":-0.04,"x":-0.08},{"y":0.14,"x":-0.02},{"y":-0.18,"x":0.02},{"y":0,"x":-0.18},{"y":0.26,"x":0.3},{"y":-0.38,"x":-0.35},{"y":0.35,"x":-0.32},{"y":-0.32,"x":0.36},{"y":0.12,"x":0.38},{"y":-0.4,"x":0.15},{"y":0.42,"x":-0.18},{"y":-0.1,"x":-0.4},{"y":0.18,"x":0},{"y":-0.06,"x":0.12},{"y":0.09,"x":-0.12},{"y":-0.24,"x":-0.26},{"y":0.28,"x":-0.02},{"y":-0.14,"x":0.35},{"y":0.22,"x":-0.35},{"y":-0.02,"x":0.05},{"y":0.04,"x":0.22},{"y":-0.28,"x":-0.12},{"y":0.16,"x":0.2},{"y":-0.2,"x":0.25},{"y":0.3,"x":0.15},{"y":-0.34,"x":-0.28},{"y":0.38,"x":0.28},{"y":-0.08,"x":-0.28},{"y":0.1,"x":0.28},{"y":0,"x":0},{"y":-0.16,"x":-0.2},{"y":0.2,"x":-0.05},{"y":-0.3,"x":0.22},{"y":0.05,"x":-0.22},{"y":0.12,"x":-0.28},{"y":-0.22,"x":0.08},{"y":0.26,"x":0.12},{"y":-0.04,"x":0.3},{"y":0.34,"x":-0.2},{"y":0.4,"x":0.27},{"y":0.23,"x":0.45},{"y":0.53,"x":0.25},{"y":0.37,"x":0.47},{"y":0.53,"x":0.44},{"y":0.36,"x":0.59},{"y":0.49,"x":0.38},{"y":0.36,"x":0.54},{"y":0.58,"x":0.4},{"y":0.68,"x":0.55},{"y":0.5,"x":0.68},{"y":0.6,"x":0.53},{"y":0.51,"x":0.75},{"y":0.74,"x":0.62},{"y":0.72,"x":0.76},{"y":0.55,"x":0.59},{"y":0.85,"x":0.78},{"y":0.71,"x":0.91},{"y":0.86,"x":0.71},{"y":0.72,"x":0.85},{"y":0.99,"x":0.71},{"y":0.86,"x":0.97},{"y":1.02,"x":0.91},{"y":0.83,"x":1.08},{"y":1.03,"x":0.94},{"y":0.96,"x":1.14},{"y":1.13,"x":0.93},{"y":1.24,"x":1.14},{"y":1.12,"x":1.25},{"y":1.12,"x":1.14},{"y":1.31,"x":1.42},{"y":0.53,"x":0.4},{"y":0.54,"x":0.64},{"y":0.79,"x":0.54},{"y":0.65,"x":0.83},{"y":0.96,"x":0.88},{"y":-0.27,"x":0.23},{"y":-0.45,"x":0.37},{"y":-0.25,"x":0.24},{"y":-0.47,"x":0.46},{"y":-0.44,"x":0.55},{"y":-0.59,"x":0.38},{"y":-0.38,"x":0.47},{"y":-0.54,"x":0.39},{"y":-0.4,"x":0.61},{"y":-0.55,"x":0.59},{"y":-0.68,"x":0.42},{"y":-0.53,"x":0.72},{"y":-0.75,"x":0.57},{"y":-0.62,"x":0.72},{"y":-0.76,"x":0.58},{"y":-0.59,"x":0.84},{"y":-0.78,"x":0.71},{"y":-0.91,"x":0.86},{"y":-0.71,"x":0.66},{"y":-0.85,"x":0.85},{"y":-0.71,"x":0.77},{"y":-0.97,"x":0.93},{"y":-0.91,"x":1.03},{"y":-1.08,"x":0.9},{"y":-0.94,"x":0.88},{"y":-1.14,"x":1.05},{"y":-0.93,"x":1.17},{"y":-1.14,"x":1.09},{"y":-1.25,"x":1.31},{"y":-1.14,"x":1.15},{"y":-1.42,"x":1.36},{"y":-0.4,"x":0.52},{"y":-0.64,"x":0.46},{"y":-0.54,"x":0.81},{"y":-0.83,"x":0.71},{"y":-0.88,"x":1.01},{"y":-0.25,"x":-0.39},{"y":-0.35,"x":-0.37},{"y":-0.27,"x":-0.52},{"y":-0.49,"x":-0.31},{"y":-0.46,"x":-0.46},{"y":-0.3,"x":-0.33},{"y":-0.59,"x":-0.47},{"y":-0.45,"x":-0.61},{"y":-0.59,"x":-0.45},{"y":-0.45,"x":-0.68},{"y":-0.71,"x":-0.54},{"y":-0.58,"x":-0.68},{"y":-0.72,"x":-0.51},{"y":-0.52,"x":-0.7},{"y":-0.71,"x":-0.83},{"y":-0.62,"x":-0.62},{"y":-0.78,"x":-0.76},{"y":-0.87,"x":-0.62},{"y":-0.73,"x":-0.88},{"y":-0.7,"x":-0.81},{"y":-0.86,"x":-0.97},{"y":-0.97,"x":-0.82},{"y":-0.88,"x":-1.02},{"y":-1.09,"x":-0.81},{"y":-0.91,"x":-1.01},{"y":-1.1,"x":-1.11},{"y":-1.16,"x":-0.98},{"y":-1.01,"x":-1.25},{"y":-1.33,"x":-1.14},{"y":-1.21,"x":-1.3},{"y":-1.41,"x":-1.18},{"y":-0.35,"x":-0.53},{"y":-0.6,"x":-0.56},{"y":-0.52,"x":-0.61},{"y":-0.8,"x":-0.84},{"y":-1.03,"x":-0.77},{"y":0.36,"x":-0.47},{"y":0.23,"x":-0.32},{"y":0.38,"x":-0.49},{"y":0.51,"x":-0.31},{"y":0.35,"x":-0.44},{"y":0.58,"x":-0.31},{"y":0.44,"x":-0.53},{"y":0.58,"x":-0.63},{"y":0.41,"x":-0.45},{"y":0.6,"x":-0.55},{"y":0.72,"x":-0.46},{"y":0.52,"x":-0.69},{"y":0.65,"x":-0.66},{"y":0.51,"x":-0.5},{"y":0.77,"x":-0.8},{"y":0.69,"x":-0.65},{"y":0.85,"x":-0.8},{"y":0.7,"x":-0.66},{"y":0.89,"x":-0.93},{"y":0.67,"x":-0.8},{"y":0.86,"x":-0.95},{"y":0.95,"x":-0.75},{"y":0.82,"x":-0.95},{"y":1.08,"x":-0.88},{"y":0.96,"x":-1.05},{"y":1.1,"x":-1.15},{"y":0.96,"x":-1.02},{"y":1.22,"x":-1.01},{"y":1.16,"x":-1.19},{"y":1.19,"x":-1.33},{"y":1.4,"x":-1.26},{"y":0.31,"x":-0.57},{"y":0.65,"x":-0.49},{"y":0.68,"x":-0.72},{"y":0.88,"x":-0.82},{"y":0.81,"x":-0.78},{"x":-1.65,"y":1.27},{"x":-1.63,"y":1.23},{"x":-1.32,"y":1.08},{"x":-0.88,"y":1.46},{"x":-0.88,"y":1.03},{"x":-1.02,"y":0.59},{"x":-1.35,"y":-1.02},{"x":-1.3,"y":-0.91},{"x":-1.17,"y":-1.2},{"x":-1.13,"y":-1.48},{"x":-1.15,"y":-0.68},{"x":-0.67,"y":-1.37},{"x":0.88,"y":1.36},{"x":1.1,"y":1.3},{"x":1.42,"y":1.42},{"x":1.22,"y":1.17},{"x":1.5,"y":1.03},{"x":1.33,"y":0.86},{"x":1.18,"y":0.57},{"x":0.83,"y":-1.41},{"x":0.96,"y":-1.18},{"x":1.25,"y":-1.14},{"x":1.37,"y":-1.25},{"x":1.55,"y":-1.12},{"x":1.56,"y":-1.56},{"x":1.68,"y":-1.48},{"x":1.27,"y":-0.64},{"x":1.14,"y":-0.89},{"x":0.91,"y":-0.97}]},
"mark":{"type":"circle"},
"encoding":{"x":{"field":"x","type":"quantitative","scale":{"domain":[-2,2],"nice":false,"zero":false},"axis":{"values":[-1,0,1],"title":"X","titleFontStyle":"italic","labelExpr":"replace(datum.label,'−','-')"}},"y":{"field":"y","type":"quantitative","scale":{"domain":[-2,2],"nice":false,"zero":false},"axis":{"values":[-1,0,1],"title":"Y","titleFontStyle":"italic","labelExpr":"replace(datum.label,'−','-')"}}}},
{"title":"Posterior MI","width":173.4,"height":173.4,"layer":[
{"data":{"values":[{"e":0.3259,"n":10},{"e":0.3297,"n":10},{"e":0.3335,"n":2},{"e":0.3373,"n":2},{"e":0.3411,"n":10},{"e":0.3449,"n":15},{"e":0.3487,"n":30},{"e":0.3525,"n":27},{"e":0.3563,"n":42},{"e":0.3601,"n":53},{"e":0.3639,"n":22},{"e":0.3677,"n":27},{"e":0.3715,"n":73},{"e":0.3753,"n":77},{"e":0.3791,"n":77},{"e":0.3829,"n":67},{"e":0.3867,"n":117},{"e":0.3905,"n":157},{"e":0.3943,"n":93},{"e":0.3981,"n":103},{"e":0.4019,"n":165},{"e":0.4057,"n":138},{"e":0.4095,"n":135},{"e":0.4133,"n":150},{"e":0.4171,"n":137},{"e":0.4209,"n":113},{"e":0.4247,"n":108},{"e":0.4285,"n":105},{"e":0.4323,"n":113},{"e":0.4361,"n":112},{"e":0.4399,"n":102},{"e":0.4437,"n":67},{"e":0.4475,"n":67},{"e":0.4513,"n":62},{"e":0.4551,"n":50},{"e":0.4589,"n":70},{"e":0.4627,"n":50},{"e":0.4665,"n":30},{"e":0.4703,"n":30},{"e":0.4741,"n":27},{"e":0.4779,"n":22},{"e":0.4817,"n":15},{"e":0.4855,"n":7},{"e":0.4893,"n":7},{"e":0.4931,"n":7},{"e":0.4969,"n":3},{"e":0.5007,"n":0},{"e":0.5045,"n":2},{"e":0.5083,"n":2},{"e":0.5121,"n":2},{"e":0.5159,"n":2}]},
"mark":{"type":"area","interpolate":"step-after","color":"#ff0000","opacity":0.5},
"encoding":{"x":{"field":"e","type":"quantitative","scale":{"domain":[0.3167,0.5243],"nice":false,"zero":false},"axis":{"values":[0.4,0.5],"format":".1f","title":"MI"}},"y":{"field":"n","type":"quantitative","scale":{"domain":[0,173.4],"nice":false},"axis":null}}},
{"data":{"values":[{"m":0.4163}]},"mark":{"type":"rule","color":"#ff0000","strokeWidth":2.7},"encoding":{"x":{"field":"m","type":"quantitative"}}},
{"data":{"values":[{"m":0.4096}]},"mark":{"type":"rule","color":"#000","strokeWidth":2.7,"strokeDash":[2.7,4.5]},"encoding":{"x":{"field":"m","type":"quantitative"}}}]},
{"title":"Posterior PMI profile","width":173.4,"height":173.4,
"data":{"values":[{"v":-1.352,"k":0.7,"lo":0.4,"hi":1.2},{"v":-1.277,"k":1,"lo":0.6,"hi":1.6},{"v":-1.202,"k":1.7,"lo":1.1,"hi":2.4},{"v":-1.127,"k":2.3,"lo":1.6,"hi":3.1},{"v":-1.052,"k":3,"lo":2.1,"hi":3.9},{"v":-0.977,"k":3.7,"lo":2.7,"hi":4.8},{"v":-0.902,"k":5,"lo":3.7,"hi":6.3},{"v":-0.827,"k":6,"lo":4.5,"hi":7.6},{"v":-0.752,"k":7.3,"lo":5.5,"hi":9.2},{"v":-0.677,"k":9,"lo":6.9,"hi":11.3},{"v":-0.602,"k":10.7,"lo":8.2,"hi":13.4},{"v":-0.527,"k":12.7,"lo":9.8,"hi":16},{"v":-0.452,"k":15,"lo":11.7,"hi":19},{"v":-0.377,"k":18,"lo":14,"hi":23},{"v":-0.302,"k":21.7,"lo":17,"hi":28},{"v":-0.227,"k":26.3,"lo":21,"hi":34},{"v":-0.152,"k":31.7,"lo":25,"hi":42},{"v":-0.077,"k":38.3,"lo":30,"hi":52},{"v":-0.002,"k":46.3,"lo":36,"hi":66},{"v":0.073,"k":60.7,"lo":46,"hi":90},{"v":0.148,"k":79,"lo":62,"hi":125},{"v":0.223,"k":122.3,"lo":95,"hi":150},{"v":0.298,"k":148.3,"lo":125,"hi":164},{"v":0.373,"k":109,"lo":92,"hi":130},{"v":0.448,"k":94,"lo":82,"hi":108},{"v":0.523,"k":87.3,"lo":76,"hi":100},{"v":0.598,"k":84,"lo":73,"hi":96},{"v":0.673,"k":81.7,"lo":70,"hi":93},{"v":0.748,"k":62.3,"lo":22,"hi":88},{"v":0.823,"k":19.7,"lo":15,"hi":72},{"v":0.898,"k":17.3,"lo":13.5,"hi":22},{"v":0.973,"k":15,"lo":11.8,"hi":19},{"v":1.048,"k":13.3,"lo":10.5,"hi":17},{"v":1.123,"k":11.7,"lo":9.2,"hi":15},{"v":1.198,"k":10,"lo":7.9,"hi":12.8},{"v":1.273,"k":8.7,"lo":6.9,"hi":11.1},{"v":1.348,"k":7.3,"lo":5.8,"hi":9.4},{"v":1.423,"k":6.3,"lo":5,"hi":8.1},{"v":1.498,"k":5.3,"lo":4.2,"hi":6.8},{"v":1.573,"k":4.7,"lo":3.7,"hi":6},{"v":1.648,"k":4,"lo":3.1,"hi":5.2},{"v":1.723,"k":3.3,"lo":2.6,"hi":4.3},{"v":1.798,"k":3,"lo":2.3,"hi":3.9},{"v":1.873,"k":2.7,"lo":2.1,"hi":3.5},{"v":1.948,"k":2.3,"lo":1.8,"hi":3},{"v":2.023,"k":2,"lo":1.5,"hi":2.6},{"v":2.098,"k":1.7,"lo":1.3,"hi":2.2},{"v":2.173,"k":1.3,"lo":1,"hi":1.8},{"v":2.248,"k":1.3,"lo":1,"hi":1.7},{"v":2.323,"k":1,"lo":0.7,"hi":1.4},{"v":2.398,"k":1,"lo":0.7,"hi":1.4}]},
"encoding":{"x":{"field":"v","type":"quantitative","scale":{"domain":[-1.52,2.56],"nice":false,"zero":false},"axis":{"values":[0,2.5],"format":".1f","title":"PMI"}}},
"layer":[
{"mark":{"type":"area","interpolate":"step-after","color":"#ff0000","opacity":0.4},"encoding":{"y":{"field":"hi","type":"quantitative","scale":{"domain":[0,173.4],"nice":false},"axis":null},"y2":{"field":"lo"}}},
{"mark":{"type":"line","interpolate":"step-after","color":"#ff0000","strokeWidth":5,"opacity":0.7},"encoding":{"y":{"field":"k","type":"quantitative","axis":null}}},
{"mark":{"type":"line","interpolate":"step-after","color":"#000","strokeWidth":1.7},"encoding":{"y":{"field":"k","type":"quantitative","axis":null}}}]}
],"spacing":7.1,"bounds":"flush"}
],"spacing":42.9,"bounds":"flush"},
{"hconcat":[
{"title":"Ground-truth sample","width":173.4,"height":173.4,"data":{"values":[{"x":-0.02,"y":0.03},{"x":0.05,"y":-0.04},{"x":-0.08,"y":0.07},{"x":0.1,"y":0.09},{"x":-0.12,"y":-0.06},{"x":0.03,"y":0.14},{"x":0.07,"y":-0.13},{"x":-0.05,"y":-0.11},{"x":0.15,"y":0.02},{"x":-0.16,"y":0.13},{"x":0.13,"y":-0.08},{"x":-0.01,"y":-0.17},{"x":0.04,"y":0.21},{"x":-0.11,"y":0.19},{"x":0.19,"y":0.16},{"x":-0.21,"y":-0.15},{"x":0.18,"y":-0.2},{"x":-0.19,"y":0.03},{"x":0.08,"y":0.05},{"x":-0.06,"y":-0.01},{"x":0,"y":0.07},{"x":0.23,"y":-0.03},{"x":-0.25,"y":0.22},{"x":0.22,"y":0.25},{"x":-0.13,"y":-0.22},{"x":0.06,"y":-0.24},{"x":-0.03,"y":0.28},{"x":0.14,"y":0.18},{"x":-0.16,"y":-0.13},{"x":0.11,"y":-0.16},{"x":-0.09,"y":0.12},{"x":0.02,"y":-0.07},{"x":-0.24,"y":-0.03},{"x":0.27,"y":0.07},{"x":-0.05,"y":0.16},{"x":0.17,"y":-0.11},{"x":-0.19,"y":0.09},{"x":0.07,"y":0.11},{"x":-0.1,"y":-0.07},{"x":0.01,"y":-0.03},{"x":0.04,"y":0.03},{"x":-0.03,"y":-0.05},{"x":0.1,"y":-0.01},{"x":-0.13,"y":0.01},{"x":0,"y":-0.12},{"x":0.19,"y":0.22},{"x":-0.28,"y":-0.26},{"x":0.26,"y":-0.24},{"x":-0.24,"y":0.27},{"x":0.09,"y":0.28},{"x":-0.3,"y":0.11},{"x":0.31,"y":-0.13},{"x":-0.07,"y":-0.29},{"x":0.13,"y":0},{"x":-0.04,"y":0.09},{"x":0.06,"y":-0.09},{"x":-0.17,"y":-0.19},{"x":0.2,"y":-0.01},{"x":-0.1,"y":0.26},{"x":0.16,"y":-0.26},{"x":-0.01,"y":0.04},{"x":0.03,"y":0.16},{"x":-0.2,"y":-0.09},{"x":0.12,"y":0.15},{"x":-0.14,"y":0.18},{"x":0.22,"y":0.11},{"x":-0.25,"y":-0.21},{"x":0.28,"y":0.21},{"x":-0.06,"y":-0.2},{"x":0.07,"y":0.2},{"x":0.01,"y":0},{"x":-0.12,"y":-0.15},{"x":0.15,"y":-0.04},{"x":-0.22,"y":0.16},{"x":0.04,"y":-0.16},{"x":0.09,"y":-0.21},{"x":-0.16,"y":0.06},{"x":0.19,"y":0.09},{"x":-0.03,"y":0.22},{"x":0.25,"y":-0.15},{"x":-0.33,"y":0.3},{"x":0.34,"y":0.32},{"x":-0.35,"y":-0.32},{"x":0.33,"y":-0.3},{"x":0.3,"y":0.02},{"x":-0.31,"y":-0.01},{"x":0.02,"y":0.32},{"x":-0.01,"y":-0.33},{"x":0.36,"y":0.18},{"x":-0.37,"y":0.19},{"x":0.21,"y":-0.36},{"x":-0.2,"y":-0.37},{"x":0.38,"y":-0.2},{"x":-0.38,"y":-0.17},{"x":0.18,"y":0.38},{"x":-0.17,"y":0.38},{"x":0.11,"y":0.35},{"x":-0.12,"y":-0.36},{"x":0.29,"y":-0.33},{"x":-0.3,"y":0.34},{"x":0.08,"y":0},{"x":-0.07,"y":0.02},{"x":0,"y":-0.08},{"x":0.02,"y":0.1},{"x":-0.09,"y":-0.1},{"x":0.12,"y":0.07},{"x":0.14,"y":-0.14},{"x":-0.15,"y":0.15},{"x":0.05,"y":0.12},{"x":-0.04,"y":-0.14},{"x":-0.05,"y":0.02},{"x":0.08,"y":-0.06},{"x":-0.12,"y":0.1},{"x":0.15,"y":0.12},{"x":-0.2,"y":-0.08},{"x":0.02,"y":0.18},{"x":0.1,"y":-0.18},{"x":-0.08,"y":-0.15},{"x":0.22,"y":0.05},{"x":-0.25,"y":0.2},{"x":0.18,"y":-0.1},{"x":-0.02,"y":-0.25},{"x":0.05,"y":0.3},{"x":-0.15,"y":0.28},{"x":0.28,"y":0.22},{"x":-0.3,"y":-0.22},{"x":0.25,"y":-0.28},{"x":-0.28,"y":0.05},{"x":0.12,"y":0.08},{"x":-0.1,"y":-0.02},{"x":0,"y":0.1},{"x":0.32,"y":-0.05},{"x":-0.35,"y":0.3},{"x":0.3,"y":0.35},{"x":-0.18,"y":-0.3},{"x":0.08,"y":-0.32},{"x":-0.05,"y":0.38},{"x":0.2,"y":0.25},{"x":-0.22,"y":-0.18},{"x":0.15,"y":-0.22},{"x":-0.12,"y":0.18},{"x":0.04,"y":-0.1},{"x":-0.32,"y":-0.05},{"x":0.36,"y":0.1},{"x":-0.08,"y":0.22},{"x":0.24,"y":-0.15},{"x":-0.26,"y":0.12},{"x":0.1,"y":0.15},{"x":-0.15,"y":-0.1},{"x":0.02,"y":-0.05},{"x":0.06,"y":0.05},{"x":-0.04,"y":-0.08},{"x":0.14,"y":-0.02},{"x":-0.18,"y":0.02},{"x":0,"y":-0.18},{"x":0.26,"y":0.3},{"x":-0.38,"y":-0.35},{"x":0.35,"y":-0.32},{"x":-0.32,"y":0.36},{"x":0.12,"y":0.38},{"x":-0.4,"y":0.15},{"x":0.42,"y":-0.18},{"x":-0.1,"y":-0.4},{"x":0.18,"y":0},{"x":-0.06,"y":0.12},{"x":0.09,"y":-0.12},{"x":-0.24,"y":-0.26},{"x":0.28,"y":-0.02},{"x":-0.14,"y":0.35},{"x":0.22,"y":-0.35},{"x":-0.02,"y":0.05},{"x":0.04,"y":0.22},{"x":-0.28,"y":-0.12},{"x":0.16,"y":0.2},{"x":-0.2,"y":0.25},{"x":0.3,"y":0.15},{"x":-0.34,"y":-0.28},{"x":0.38,"y":0.28},{"x":-0.08,"y":-0.28},{"x":0.1,"y":0.28},{"x":0,"y":0},{"x":-0.16,"y":-0.2},{"x":0.2,"y":-0.05},{"x":-0.3,"y":0.22},{"x":0.05,"y":-0.22},{"x":0.12,"y":-0.28},{"x":-0.22,"y":0.08},{"x":0.26,"y":0.12},{"x":-0.04,"y":0.3},{"x":0.34,"y":-0.2},{"x":0.4,"y":0.27},{"x":0.23,"y":0.45},{"x":0.53,"y":0.25},{"x":0.37,"y":0.47},{"x":0.53,"y":0.44},{"x":0.36,"y":0.59},{"x":0.49,"y":0.38},{"x":0.36,"y":0.54},{"x":0.58,"y":0.4},{"x":0.68,"y":0.55},{"x":0.5,"y":0.68},{"x":0.6,"y":0.53},{"x":0.51,"y":0.75},{"x":0.74,"y":0.62},{"x":0.72,"y":0.76},{"x":0.55,"y":0.59},{"x":0.85,"y":0.78},{"x":0.71,"y":0.91},{"x":0.86,"y":0.71},{"x":0.72,"y":0.85},{"x":0.99,"y":0.71},{"x":0.86,"y":0.97},{"x":1.02,"y":0.91},{"x":0.83,"y":1.08},{"x":1.03,"y":0.94},{"x":0.96,"y":1.14},{"x":1.13,"y":0.93},{"x":1.24,"y":1.14},{"x":1.12,"y":1.25},{"x":1.12,"y":1.14},{"x":1.31,"y":1.42},{"x":0.53,"y":0.4},{"x":0.54,"y":0.64},{"x":0.79,"y":0.54},{"x":0.65,"y":0.83},{"x":0.96,"y":0.88},{"x":-0.27,"y":0.23},{"x":-0.45,"y":0.37},{"x":-0.25,"y":0.24},{"x":-0.47,"y":0.46},{"x":-0.44,"y":0.55},{"x":-0.59,"y":0.38},{"x":-0.38,"y":0.47},{"x":-0.54,"y":0.39},{"x":-0.4,"y":0.61},{"x":-0.55,"y":0.59},{"x":-0.68,"y":0.42},{"x":-0.53,"y":0.72},{"x":-0.75,"y":0.57},{"x":-0.62,"y":0.72},{"x":-0.76,"y":0.58},{"x":-0.59,"y":0.84},{"x":-0.78,"y":0.71},{"x":-0.91,"y":0.86},{"x":-0.71,"y":0.66},{"x":-0.85,"y":0.85},{"x":-0.71,"y":0.77},{"x":-0.97,"y":0.93},{"x":-0.91,"y":1.03},{"x":-1.08,"y":0.9},{"x":-0.94,"y":0.88},{"x":-1.14,"y":1.05},{"x":-0.93,"y":1.17},{"x":-1.14,"y":1.09},{"x":-1.25,"y":1.31},{"x":-1.14,"y":1.15},{"x":-1.42,"y":1.36},{"x":-0.4,"y":0.52},{"x":-0.64,"y":0.46},{"x":-0.54,"y":0.81},{"x":-0.83,"y":0.71},{"x":-0.88,"y":1.01},{"x":-0.25,"y":-0.39},{"x":-0.35,"y":-0.37},{"x":-0.27,"y":-0.52},{"x":-0.49,"y":-0.31},{"x":-0.46,"y":-0.46},{"x":-0.3,"y":-0.33},{"x":-0.59,"y":-0.47},{"x":-0.45,"y":-0.61},{"x":-0.59,"y":-0.45},{"x":-0.45,"y":-0.68},{"x":-0.71,"y":-0.54},{"x":-0.58,"y":-0.68},{"x":-0.72,"y":-0.51},{"x":-0.52,"y":-0.7},{"x":-0.71,"y":-0.83},{"x":-0.62,"y":-0.62},{"x":-0.78,"y":-0.76},{"x":-0.87,"y":-0.62},{"x":-0.73,"y":-0.88},{"x":-0.7,"y":-0.81},{"x":-0.86,"y":-0.97},{"x":-0.97,"y":-0.82},{"x":-0.88,"y":-1.02},{"x":-1.09,"y":-0.81},{"x":-0.91,"y":-1.01},{"x":-1.1,"y":-1.11},{"x":-1.16,"y":-0.98},{"x":-1.01,"y":-1.25},{"x":-1.33,"y":-1.14},{"x":-1.21,"y":-1.3},{"x":-1.41,"y":-1.18},{"x":-0.35,"y":-0.53},{"x":-0.6,"y":-0.56},{"x":-0.52,"y":-0.61},{"x":-0.8,"y":-0.84},{"x":-1.03,"y":-0.77},{"x":0.36,"y":-0.47},{"x":0.23,"y":-0.32},{"x":0.38,"y":-0.49},{"x":0.51,"y":-0.31},{"x":0.35,"y":-0.44},{"x":0.58,"y":-0.31},{"x":0.44,"y":-0.53},{"x":0.58,"y":-0.63},{"x":0.41,"y":-0.45},{"x":0.6,"y":-0.55},{"x":0.72,"y":-0.46},{"x":0.52,"y":-0.69},{"x":0.65,"y":-0.66},{"x":0.51,"y":-0.5},{"x":0.77,"y":-0.8},{"x":0.69,"y":-0.65},{"x":0.85,"y":-0.8},{"x":0.7,"y":-0.66},{"x":0.89,"y":-0.93},{"x":0.67,"y":-0.8},{"x":0.86,"y":-0.95},{"x":0.95,"y":-0.75},{"x":0.82,"y":-0.95},{"x":1.08,"y":-0.88},{"x":0.96,"y":-1.05},{"x":1.1,"y":-1.15},{"x":0.96,"y":-1.02},{"x":1.22,"y":-1.01},{"x":1.16,"y":-1.19},{"x":1.19,"y":-1.33},{"x":1.4,"y":-1.26},{"x":0.31,"y":-0.57},{"x":0.65,"y":-0.49},{"x":0.68,"y":-0.72},{"x":0.88,"y":-0.82},{"x":0.81,"y":-0.78},{"x":-0.4,"y":-0.27},{"x":-0.23,"y":-0.45},{"x":-0.53,"y":-0.25},{"x":-0.37,"y":-0.47},{"x":-0.53,"y":-0.44},{"x":-0.36,"y":-0.59},{"x":-0.49,"y":-0.38},{"x":-0.36,"y":-0.54},{"x":-0.58,"y":-0.4},{"x":-0.68,"y":-0.55},{"x":-0.5,"y":-0.68},{"x":-0.6,"y":-0.53},{"x":-0.51,"y":-0.75},{"x":-0.74,"y":-0.62},{"x":-0.72,"y":-0.76},{"x":-0.55,"y":-0.59},{"x":-0.85,"y":-0.78},{"x":-0.71,"y":-0.91},{"x":-0.86,"y":-0.71},{"x":-0.72,"y":-0.85},{"x":-0.99,"y":-0.71},{"x":-0.86,"y":-0.97},{"x":-1.02,"y":-0.91},{"x":-0.83,"y":-1.08},{"x":-1.03,"y":-0.94},{"x":-0.96,"y":-1.14},{"x":-1.13,"y":-0.93},{"x":-1.24,"y":-1.14},{"x":-1.12,"y":-1.25},{"x":-1.12,"y":-1.14},{"x":-1.31,"y":-1.42},{"x":-0.53,"y":-0.4},{"x":-0.54,"y":-0.64},{"x":-0.79,"y":-0.54},{"x":-0.65,"y":-0.83},{"x":-0.96,"y":-0.88},{"x":0.27,"y":-0.23},{"x":0.45,"y":-0.37},{"x":0.25,"y":-0.24},{"x":0.47,"y":-0.46},{"x":0.44,"y":-0.55},{"x":0.59,"y":-0.38},{"x":0.38,"y":-0.47},{"x":0.54,"y":-0.39},{"x":0.4,"y":-0.61},{"x":0.55,"y":-0.59},{"x":0.68,"y":-0.42},{"x":0.53,"y":-0.72},{"x":0.75,"y":-0.57},{"x":0.62,"y":-0.72},{"x":0.76,"y":-0.58},{"x":0.59,"y":-0.84},{"x":0.78,"y":-0.71},{"x":0.91,"y":-0.86},{"x":0.71,"y":-0.66},{"x":0.85,"y":-0.85},{"x":0.71,"y":-0.77},{"x":0.97,"y":-0.93},{"x":0.91,"y":-1.03},{"x":1.08,"y":-0.9},{"x":0.94,"y":-0.88},{"x":1.14,"y":-1.05},{"x":0.93,"y":-1.17},{"x":1.14,"y":-1.09},{"x":1.25,"y":-1.31},{"x":1.14,"y":-1.15},{"x":1.42,"y":-1.36},{"x":0.4,"y":-0.52},{"x":0.64,"y":-0.46},{"x":0.54,"y":-0.81},{"x":0.83,"y":-0.71},{"x":0.88,"y":-1.01},{"x":0.25,"y":0.39},{"x":0.35,"y":0.37},{"x":0.27,"y":0.52},{"x":0.49,"y":0.31},{"x":0.46,"y":0.46},{"x":0.3,"y":0.33},{"x":0.59,"y":0.47},{"x":0.45,"y":0.61},{"x":0.59,"y":0.45},{"x":0.45,"y":0.68},{"x":0.71,"y":0.54},{"x":0.58,"y":0.68},{"x":0.72,"y":0.51},{"x":0.52,"y":0.7},{"x":0.71,"y":0.83},{"x":0.62,"y":0.62},{"x":0.78,"y":0.76},{"x":0.87,"y":0.62},{"x":0.73,"y":0.88},{"x":0.7,"y":0.81},{"x":0.86,"y":0.97},{"x":0.97,"y":0.82},{"x":0.88,"y":1.02},{"x":1.09,"y":0.81},{"x":0.91,"y":1.01},{"x":1.1,"y":1.11},{"x":1.16,"y":0.98},{"x":1.01,"y":1.25},{"x":1.33,"y":1.14},{"x":1.21,"y":1.3},{"x":1.41,"y":1.18},{"x":0.35,"y":0.53},{"x":0.6,"y":0.56},{"x":0.52,"y":0.61},{"x":0.8,"y":0.84},{"x":1.03,"y":0.77},{"x":-0.36,"y":0.47},{"x":-0.23,"y":0.32},{"x":-0.38,"y":0.49},{"x":-0.51,"y":0.31},{"x":-0.35,"y":0.44},{"x":-0.58,"y":0.31},{"x":-0.44,"y":0.53},{"x":-0.58,"y":0.63},{"x":-0.41,"y":0.45},{"x":-0.6,"y":0.55},{"x":-0.72,"y":0.46},{"x":-0.52,"y":0.69},{"x":-0.65,"y":0.66},{"x":-0.51,"y":0.5},{"x":-0.77,"y":0.8},{"x":-0.69,"y":0.65},{"x":-0.85,"y":0.8},{"x":-0.7,"y":0.66},{"x":-0.89,"y":0.93},{"x":-0.67,"y":0.8},{"x":-0.86,"y":0.95},{"x":-0.95,"y":0.75},{"x":-0.82,"y":0.95},{"x":-1.08,"y":0.88},{"x":-0.96,"y":1.05},{"x":-1.1,"y":1.15},{"x":-0.96,"y":1.02},{"x":-1.22,"y":1.01},{"x":-1.16,"y":1.19},{"x":-1.19,"y":1.33},{"x":-1.4,"y":1.26},{"x":-0.31,"y":0.57},{"x":-0.65,"y":0.49},{"x":-0.68,"y":0.72},{"x":-0.88,"y":0.82},{"x":-0.81,"y":0.78},{"x":1.71,"y":1.36},{"x":1.55,"y":1.3},{"x":-1.6,"y":1.25},{"x":-1.25,"y":1.52},{"x":1.2,"y":1.45},{"x":-1.5,"y":-1.25},{"x":-1.2,"y":-1.45},{"x":1.35,"y":-1.5},{"x":1.7,"y":-1.4},{"x":-1.75,"y":-1.65},{"x":-1.43,"y":1.47},{"x":1.39,"y":1.47},{"x":1.62,"y":-1.12},{"x":0.2,"y":0.75},{"x":-0.25,"y":-0.8},{"x":0.8,"y":0.2},{"x":-0.75,"y":0.2},{"x":0.15,"y":-0.75},{"x":-0.85,"y":-0.25},{"x":0.3,"y":1.05},{"x":-0.35,"y":1.1},{"x":1.05,"y":-0.3},{"x":-1.1,"y":0.35},{"x":0.95,"y":0.3}]},
"mark":{"type":"circle"},
"encoding":{"x":{"field":"x","type":"quantitative","scale":{"domain":[-2,2],"nice":false,"zero":false},"axis":{"values":[-1,0,1],"title":"X","titleFontStyle":"italic","labelExpr":"replace(datum.label,'−','-')"}},"y":{"field":"y","type":"quantitative","scale":{"domain":[-2,2],"nice":false,"zero":false},"axis":{"values":[-1,0,1],"title":"Y","titleFontStyle":"italic","labelExpr":"replace(datum.label,'−','-')"}}}},
{"hconcat":[
{"title":"Simulated sample","width":173.4,"height":173.4,"data":{"values":[{"y":-0.02,"x":0.03},{"y":0.05,"x":-0.04},{"y":-0.08,"x":0.07},{"y":0.1,"x":0.09},{"y":-0.12,"x":-0.06},{"y":0.03,"x":0.14},{"y":0.07,"x":-0.13},{"y":-0.05,"x":-0.11},{"y":0.15,"x":0.02},{"y":-0.16,"x":0.13},{"y":0.13,"x":-0.08},{"y":-0.01,"x":-0.17},{"y":0.04,"x":0.21},{"y":-0.11,"x":0.19},{"y":0.19,"x":0.16},{"y":-0.21,"x":-0.15},{"y":0.18,"x":-0.2},{"y":-0.19,"x":0.03},{"y":0.08,"x":0.05},{"y":-0.06,"x":-0.01},{"y":0,"x":0.07},{"y":0.23,"x":-0.03},{"y":-0.25,"x":0.22},{"y":0.22,"x":0.25},{"y":-0.13,"x":-0.22},{"y":0.06,"x":-0.24},{"y":-0.03,"x":0.28},{"y":0.14,"x":0.18},{"y":-0.16,"x":-0.13},{"y":0.11,"x":-0.16},{"y":-0.09,"x":0.12},{"y":0.02,"x":-0.07},{"y":-0.24,"x":-0.03},{"y":0.27,"x":0.07},{"y":-0.05,"x":0.16},{"y":0.17,"x":-0.11},{"y":-0.19,"x":0.09},{"y":0.07,"x":0.11},{"y":-0.1,"x":-0.07},{"y":0.01,"x":-0.03},{"y":0.04,"x":0.03},{"y":-0.03,"x":-0.05},{"y":0.1,"x":-0.01},{"y":-0.13,"x":0.01},{"y":0,"x":-0.12},{"y":0.19,"x":0.22},{"y":-0.28,"x":-0.26},{"y":0.26,"x":-0.24},{"y":-0.24,"x":0.27},{"y":0.09,"x":0.28},{"y":-0.3,"x":0.11},{"y":0.31,"x":-0.13},{"y":-0.07,"x":-0.29},{"y":0.13,"x":0},{"y":-0.04,"x":0.09},{"y":0.06,"x":-0.09},{"y":-0.17,"x":-0.19},{"y":0.2,"x":-0.01},{"y":-0.1,"x":0.26},{"y":0.16,"x":-0.26},{"y":-0.01,"x":0.04},{"y":0.03,"x":0.16},{"y":-0.2,"x":-0.09},{"y":0.12,"x":0.15},{"y":-0.14,"x":0.18},{"y":0.22,"x":0.11},{"y":-0.25,"x":-0.21},{"y":0.28,"x":0.21},{"y":-0.06,"x":-0.2},{"y":0.07,"x":0.2},{"y":0.01,"x":0},{"y":-0.12,"x":-0.15},{"y":0.15,"x":-0.04},{"y":-0.22,"x":0.16},{"y":0.04,"x":-0.16},{"y":0.09,"x":-0.21},{"y":-0.16,"x":0.06},{"y":0.19,"x":0.09},{"y":-0.03,"x":0.22},{"y":0.25,"x":-0.15},{"y":-0.33,"x":0.3},{"y":0.34,"x":0.32},{"y":-0.35,"x":-0.32},{"y":0.33,"x":-0.3},{"y":0.3,"x":0.02},{"y":-0.31,"x":-0.01},{"y":0.02,"x":0.32},{"y":-0.01,"x":-0.33},{"y":0.36,"x":0.18},{"y":-0.37,"x":0.19},{"y":0.21,"x":-0.36},{"y":-0.2,"x":-0.37},{"y":0.38,"x":-0.2},{"y":-0.38,"x":-0.17},{"y":0.18,"x":0.38},{"y":-0.17,"x":0.38},{"y":0.11,"x":0.35},{"y":-0.12,"x":-0.36},{"y":0.29,"x":-0.33},{"y":-0.3,"x":0.34},{"y":0.08,"x":0},{"y":-0.07,"x":0.02},{"y":0,"x":-0.08},{"y":0.02,"x":0.1},{"y":-0.09,"x":-0.1},{"y":0.12,"x":0.07},{"y":0.14,"x":-0.14},{"y":-0.15,"x":0.15},{"y":0.05,"x":0.12},{"y":-0.04,"x":-0.14},{"y":-0.05,"x":0.02},{"y":0.08,"x":-0.06},{"y":-0.12,"x":0.1},{"y":0.15,"x":0.12},{"y":-0.2,"x":-0.08},{"y":0.02,"x":0.18},{"y":0.1,"x":-0.18},{"y":-0.08,"x":-0.15},{"y":0.22,"x":0.05},{"y":-0.25,"x":0.2},{"y":0.18,"x":-0.1},{"y":-0.02,"x":-0.25},{"y":0.05,"x":0.3},{"y":-0.15,"x":0.28},{"y":0.28,"x":0.22},{"y":-0.3,"x":-0.22},{"y":0.25,"x":-0.28},{"y":-0.28,"x":0.05},{"y":0.12,"x":0.08},{"y":-0.1,"x":-0.02},{"y":0,"x":0.1},{"y":0.32,"x":-0.05},{"y":-0.35,"x":0.3},{"y":0.3,"x":0.35},{"y":-0.18,"x":-0.3},{"y":0.08,"x":-0.32},{"y":-0.05,"x":0.38},{"y":0.2,"x":0.25},{"y":-0.22,"x":-0.18},{"y":0.15,"x":-0.22},{"y":-0.12,"x":0.18},{"y":0.04,"x":-0.1},{"y":-0.32,"x":-0.05},{"y":0.36,"x":0.1},{"y":-0.08,"x":0.22},{"y":0.24,"x":-0.15},{"y":-0.26,"x":0.12},{"y":0.1,"x":0.15},{"y":-0.15,"x":-0.1},{"y":0.02,"x":-0.05},{"y":0.06,"x":0.05},{"y":-0.04,"x":-0.08},{"y":0.14,"x":-0.02},{"y":-0.18,"x":0.02},{"y":0,"x":-0.18},{"y":0.26,"x":0.3},{"y":-0.38,"x":-0.35},{"y":0.35,"x":-0.32},{"y":-0.32,"x":0.36},{"y":0.12,"x":0.38},{"y":-0.4,"x":0.15},{"y":0.42,"x":-0.18},{"y":-0.1,"x":-0.4},{"y":0.18,"x":0},{"y":-0.06,"x":0.12},{"y":0.09,"x":-0.12},{"y":-0.24,"x":-0.26},{"y":0.28,"x":-0.02},{"y":-0.14,"x":0.35},{"y":0.22,"x":-0.35},{"y":-0.02,"x":0.05},{"y":0.04,"x":0.22},{"y":-0.28,"x":-0.12},{"y":0.16,"x":0.2},{"y":-0.2,"x":0.25},{"y":0.3,"x":0.15},{"y":-0.34,"x":-0.28},{"y":0.38,"x":0.28},{"y":-0.08,"x":-0.28},{"y":0.1,"x":0.28},{"y":0,"x":0},{"y":-0.16,"x":-0.2},{"y":0.2,"x":-0.05},{"y":-0.3,"x":0.22},{"y":0.05,"x":-0.22},{"y":0.12,"x":-0.28},{"y":-0.22,"x":0.08},{"y":0.26,"x":0.12},{"y":-0.04,"x":0.3},{"y":0.34,"x":-0.2},{"y":0.4,"x":0.27},{"y":0.23,"x":0.45},{"y":0.53,"x":0.25},{"y":0.37,"x":0.47},{"y":0.53,"x":0.44},{"y":0.36,"x":0.59},{"y":0.49,"x":0.38},{"y":0.36,"x":0.54},{"y":0.58,"x":0.4},{"y":0.68,"x":0.55},{"y":0.5,"x":0.68},{"y":0.6,"x":0.53},{"y":0.51,"x":0.75},{"y":0.74,"x":0.62},{"y":0.72,"x":0.76},{"y":0.55,"x":0.59},{"y":0.85,"x":0.78},{"y":0.71,"x":0.91},{"y":0.86,"x":0.71},{"y":0.72,"x":0.85},{"y":0.99,"x":0.71},{"y":0.86,"x":0.97},{"y":1.02,"x":0.91},{"y":0.83,"x":1.08},{"y":1.03,"x":0.94},{"y":0.96,"x":1.14},{"y":1.13,"x":0.93},{"y":1.24,"x":1.14},{"y":1.12,"x":1.25},{"y":1.12,"x":1.14},{"y":1.31,"x":1.42},{"y":0.53,"x":0.4},{"y":0.54,"x":0.64},{"y":0.79,"x":0.54},{"y":0.65,"x":0.83},{"y":0.96,"x":0.88},{"y":-0.27,"x":0.23},{"y":-0.45,"x":0.37},{"y":-0.25,"x":0.24},{"y":-0.47,"x":0.46},{"y":-0.44,"x":0.55},{"y":-0.59,"x":0.38},{"y":-0.38,"x":0.47},{"y":-0.54,"x":0.39},{"y":-0.4,"x":0.61},{"y":-0.55,"x":0.59},{"y":-0.68,"x":0.42},{"y":-0.53,"x":0.72},{"y":-0.75,"x":0.57},{"y":-0.62,"x":0.72},{"y":-0.76,"x":0.58},{"y":-0.59,"x":0.84},{"y":-0.78,"x":0.71},{"y":-0.91,"x":0.86},{"y":-0.71,"x":0.66},{"y":-0.85,"x":0.85},{"y":-0.71,"x":0.77},{"y":-0.97,"x":0.93},{"y":-0.91,"x":1.03},{"y":-1.08,"x":0.9},{"y":-0.94,"x":0.88},{"y":-1.14,"x":1.05},{"y":-0.93,"x":1.17},{"y":-1.14,"x":1.09},{"y":-1.25,"x":1.31},{"y":-1.14,"x":1.15},{"y":-1.42,"x":1.36},{"y":-0.4,"x":0.52},{"y":-0.64,"x":0.46},{"y":-0.54,"x":0.81},{"y":-0.83,"x":0.71},{"y":-0.88,"x":1.01},{"y":-0.25,"x":-0.39},{"y":-0.35,"x":-0.37},{"y":-0.27,"x":-0.52},{"y":-0.49,"x":-0.31},{"y":-0.46,"x":-0.46},{"y":-0.3,"x":-0.33},{"y":-0.59,"x":-0.47},{"y":-0.45,"x":-0.61},{"y":-0.59,"x":-0.45},{"y":-0.45,"x":-0.68},{"y":-0.71,"x":-0.54},{"y":-0.58,"x":-0.68},{"y":-0.72,"x":-0.51},{"y":-0.52,"x":-0.7},{"y":-0.71,"x":-0.83},{"y":-0.62,"x":-0.62},{"y":-0.78,"x":-0.76},{"y":-0.87,"x":-0.62},{"y":-0.73,"x":-0.88},{"y":-0.7,"x":-0.81},{"y":-0.86,"x":-0.97},{"y":-0.97,"x":-0.82},{"y":-0.88,"x":-1.02},{"y":-1.09,"x":-0.81},{"y":-0.91,"x":-1.01},{"y":-1.1,"x":-1.11},{"y":-1.16,"x":-0.98},{"y":-1.01,"x":-1.25},{"y":-1.33,"x":-1.14},{"y":-1.21,"x":-1.3},{"y":-1.41,"x":-1.18},{"y":-0.35,"x":-0.53},{"y":-0.6,"x":-0.56},{"y":-0.52,"x":-0.61},{"y":-0.8,"x":-0.84},{"y":-1.03,"x":-0.77},{"y":0.36,"x":-0.47},{"y":0.23,"x":-0.32},{"y":0.38,"x":-0.49},{"y":0.51,"x":-0.31},{"y":0.35,"x":-0.44},{"y":0.58,"x":-0.31},{"y":0.44,"x":-0.53},{"y":0.58,"x":-0.63},{"y":0.41,"x":-0.45},{"y":0.6,"x":-0.55},{"y":0.72,"x":-0.46},{"y":0.52,"x":-0.69},{"y":0.65,"x":-0.66},{"y":0.51,"x":-0.5},{"y":0.77,"x":-0.8},{"y":0.69,"x":-0.65},{"y":0.85,"x":-0.8},{"y":0.7,"x":-0.66},{"y":0.89,"x":-0.93},{"y":0.67,"x":-0.8},{"y":0.86,"x":-0.95},{"y":0.95,"x":-0.75},{"y":0.82,"x":-0.95},{"y":1.08,"x":-0.88},{"y":0.96,"x":-1.05},{"y":1.1,"x":-1.15},{"y":0.96,"x":-1.02},{"y":1.22,"x":-1.01},{"y":1.16,"x":-1.19},{"y":1.19,"x":-1.33},{"y":1.4,"x":-1.26},{"y":0.31,"x":-0.57},{"y":0.65,"x":-0.49},{"y":0.68,"x":-0.72},{"y":0.88,"x":-0.82},{"y":0.81,"x":-0.78},{"y":-0.4,"x":-0.27},{"y":-0.23,"x":-0.45},{"y":-0.53,"x":-0.25},{"y":-0.37,"x":-0.47},{"y":-0.53,"x":-0.44},{"y":-0.36,"x":-0.59},{"y":-0.49,"x":-0.38},{"y":-0.36,"x":-0.54},{"y":-0.58,"x":-0.4},{"y":-0.68,"x":-0.55},{"y":-0.5,"x":-0.68},{"y":-0.6,"x":-0.53},{"y":-0.51,"x":-0.75},{"y":-0.74,"x":-0.62},{"y":-0.72,"x":-0.76},{"y":-0.55,"x":-0.59},{"y":-0.85,"x":-0.78},{"y":-0.71,"x":-0.91},{"y":-0.86,"x":-0.71},{"y":-0.72,"x":-0.85},{"y":-0.99,"x":-0.71},{"y":-0.86,"x":-0.97},{"y":-1.02,"x":-0.91},{"y":-0.83,"x":-1.08},{"y":-1.03,"x":-0.94},{"y":-0.96,"x":-1.14},{"y":-1.13,"x":-0.93},{"y":-1.24,"x":-1.14},{"y":-1.12,"x":-1.25},{"y":-1.12,"x":-1.14},{"y":-1.31,"x":-1.42},{"y":-0.53,"x":-0.4},{"y":-0.54,"x":-0.64},{"y":-0.79,"x":-0.54},{"y":-0.65,"x":-0.83},{"y":-0.96,"x":-0.88},{"y":0.27,"x":-0.23},{"y":0.45,"x":-0.37},{"y":0.25,"x":-0.24},{"y":0.47,"x":-0.46},{"y":0.44,"x":-0.55},{"y":0.59,"x":-0.38},{"y":0.38,"x":-0.47},{"y":0.54,"x":-0.39},{"y":0.4,"x":-0.61},{"y":0.55,"x":-0.59},{"y":0.68,"x":-0.42},{"y":0.53,"x":-0.72},{"y":0.75,"x":-0.57},{"y":0.62,"x":-0.72},{"y":0.76,"x":-0.58},{"y":0.59,"x":-0.84},{"y":0.78,"x":-0.71},{"y":0.91,"x":-0.86},{"y":0.71,"x":-0.66},{"y":0.85,"x":-0.85},{"y":0.71,"x":-0.77},{"y":0.97,"x":-0.93},{"y":0.91,"x":-1.03},{"y":1.08,"x":-0.9},{"y":0.94,"x":-0.88},{"y":1.14,"x":-1.05},{"y":0.93,"x":-1.17},{"y":1.14,"x":-1.09},{"y":1.25,"x":-1.31},{"y":1.14,"x":-1.15},{"y":1.42,"x":-1.36},{"y":0.4,"x":-0.52},{"y":0.64,"x":-0.46},{"y":0.54,"x":-0.81},{"y":0.83,"x":-0.71},{"y":0.88,"x":-1.01},{"y":0.25,"x":0.39},{"y":0.35,"x":0.37},{"y":0.27,"x":0.52},{"y":0.49,"x":0.31},{"y":0.46,"x":0.46},{"y":0.3,"x":0.33},{"y":0.59,"x":0.47},{"y":0.45,"x":0.61},{"y":0.59,"x":0.45},{"y":0.45,"x":0.68},{"y":0.71,"x":0.54},{"y":0.58,"x":0.68},{"y":0.72,"x":0.51},{"y":0.52,"x":0.7},{"y":0.71,"x":0.83},{"y":0.62,"x":0.62},{"y":0.78,"x":0.76},{"y":0.87,"x":0.62},{"y":0.73,"x":0.88},{"y":0.7,"x":0.81},{"y":0.86,"x":0.97},{"y":0.97,"x":0.82},{"y":0.88,"x":1.02},{"y":1.09,"x":0.81},{"y":0.91,"x":1.01},{"y":1.1,"x":1.11},{"y":1.16,"x":0.98},{"y":1.01,"x":1.25},{"y":1.33,"x":1.14},{"y":1.21,"x":1.3},{"y":1.41,"x":1.18},{"y":0.35,"x":0.53},{"y":0.6,"x":0.56},{"y":0.52,"x":0.61},{"y":0.8,"x":0.84},{"y":1.03,"x":0.77},{"y":-0.36,"x":0.47},{"y":-0.23,"x":0.32},{"y":-0.38,"x":0.49},{"y":-0.51,"x":0.31},{"y":-0.35,"x":0.44},{"y":-0.58,"x":0.31},{"y":-0.44,"x":0.53},{"y":-0.58,"x":0.63},{"y":-0.41,"x":0.45},{"y":-0.6,"x":0.55},{"y":-0.72,"x":0.46},{"y":-0.52,"x":0.69},{"y":-0.65,"x":0.66},{"y":-0.51,"x":0.5},{"y":-0.77,"x":0.8},{"y":-0.69,"x":0.65},{"y":-0.85,"x":0.8},{"y":-0.7,"x":0.66},{"y":-0.89,"x":0.93},{"y":-0.67,"x":0.8},{"y":-0.86,"x":0.95},{"y":-0.95,"x":0.75},{"y":-0.82,"x":0.95},{"y":-1.08,"x":0.88},{"y":-0.96,"x":1.05},{"y":-1.1,"x":1.15},{"y":-0.96,"x":1.02},{"y":-1.22,"x":1.01},{"y":-1.16,"x":1.19},{"y":-1.19,"x":1.33},{"y":-1.4,"x":1.26},{"y":-0.31,"x":0.57},{"y":-0.65,"x":0.49},{"y":-0.68,"x":0.72},{"y":-0.88,"x":0.82},{"y":-0.81,"x":0.78},{"x":-1.78,"y":-1.65},{"x":-1.43,"y":1.54},{"x":-1.3,"y":1.55},{"x":1.59,"y":1.43},{"x":1.65,"y":1.2},{"x":1.55,"y":-1.3},{"x":1.2,"y":-1.5},{"x":-1.45,"y":-1.35},{"x":-1.6,"y":1.45},{"x":1.4,"y":-1.2},{"x":0.75,"y":0.2},{"x":-0.8,"y":-0.25},{"x":0.2,"y":0.8},{"x":0.2,"y":-0.75},{"x":-0.75,"y":0.15},{"x":-0.25,"y":-0.85},{"x":1.05,"y":0.3},{"x":1.1,"y":-0.35},{"x":-0.3,"y":1.05},{"x":0.35,"y":-1.1},{"x":0.3,"y":0.95}]},
"mark":{"type":"circle"},
"encoding":{"x":{"field":"x","type":"quantitative","scale":{"domain":[-2,2],"nice":false,"zero":false},"axis":{"values":[-1,0,1],"title":"X","titleFontStyle":"italic","labelExpr":"replace(datum.label,'−','-')"}},"y":{"field":"y","type":"quantitative","scale":{"domain":[-2,2],"nice":false,"zero":false},"axis":{"values":[-1,0,1],"title":"Y","titleFontStyle":"italic","labelExpr":"replace(datum.label,'−','-')"}}}},
{"title":"Posterior MI","width":173.4,"height":173.4,"layer":[
{"data":{"values":[{"e":0.3758,"n":6},{"e":0.379,"n":2},{"e":0.3822,"n":13},{"e":0.3854,"n":0},{"e":0.3886,"n":5},{"e":0.3918,"n":21},{"e":0.395,"n":22},{"e":0.3982,"n":33},{"e":0.4014,"n":43},{"e":0.4046,"n":72},{"e":0.4078,"n":74},{"e":0.411,"n":44},{"e":0.4142,"n":60},{"e":0.4174,"n":159},{"e":0.4206,"n":114},{"e":0.4238,"n":126},{"e":0.427,"n":159},{"e":0.4302,"n":166},{"e":0.4334,"n":159},{"e":0.4366,"n":139},{"e":0.4398,"n":162},{"e":0.443,"n":161},{"e":0.4462,"n":152},{"e":0.4494,"n":127},{"e":0.4526,"n":109},{"e":0.4558,"n":84},{"e":0.459,"n":94},{"e":0.4622,"n":54},{"e":0.4654,"n":66},{"e":0.4686,"n":69},{"e":0.4718,"n":34},{"e":0.475,"n":32},{"e":0.4782,"n":39},{"e":0.4814,"n":24},{"e":0.4846,"n":21},{"e":0.4878,"n":10},{"e":0.491,"n":6},{"e":0.4942,"n":6},{"e":0.4974,"n":6},{"e":0.5006,"n":0},{"e":0.5038,"n":0},{"e":0.507,"n":2},{"e":0.5102,"n":0},{"e":0.5134,"n":0},{"e":0.5166,"n":0},{"e":0.5198,"n":0},{"e":0.523,"n":0},{"e":0.5262,"n":0},{"e":0.5294,"n":0},{"e":0.5326,"n":2},{"e":0.5358,"n":2}]},
"mark":{"type":"area","interpolate":"step-after","color":"#ff0000","opacity":0.5},
"encoding":{"x":{"field":"e","type":"quantitative","scale":{"domain":[0.368,0.543],"nice":false,"zero":false},"axis":{"values":[0.4,0.5],"format":".1f","title":"MI"}},"y":{"field":"n","type":"quantitative","scale":{"domain":[0,173.4],"nice":false},"axis":null}}},
{"data":{"values":[{"m":0.4396}]},"mark":{"type":"rule","color":"#ff0000","strokeWidth":2.7},"encoding":{"x":{"field":"m","type":"quantitative"}}},
{"data":{"values":[{"m":0.4111}]},"mark":{"type":"rule","color":"#000","strokeWidth":2.7,"strokeDash":[2.7,4.5]},"encoding":{"x":{"field":"m","type":"quantitative"}}}]},
{"title":"Posterior PMI profile","width":173.4,"height":173.4,
"data":{"values":[{"v":-1.352,"k":2,"lo":1.6,"hi":2.5},{"v":-1.277,"k":2.3,"lo":1.8,"hi":2.9},{"v":-1.202,"k":3,"lo":2.4,"hi":3.7},{"v":-1.127,"k":3.7,"lo":3,"hi":4.5},{"v":-1.052,"k":4.7,"lo":3.8,"hi":5.6},{"v":-0.977,"k":5.3,"lo":4.3,"hi":6.4},{"v":-0.902,"k":6.3,"lo":5.2,"hi":7.5},{"v":-0.827,"k":7.7,"lo":6.4,"hi":9.1},{"v":-0.752,"k":9,"lo":7.5,"hi":10.6},{"v":-0.677,"k":10.7,"lo":9,"hi":12.6},{"v":-0.602,"k":12.3,"lo":10.4,"hi":14.5},{"v":-0.527,"k":14.7,"lo":12.5,"hi":17.2},{"v":-0.452,"k":17.3,"lo":14.8,"hi":20.2},{"v":-0.377,"k":20.3,"lo":17.5,"hi":23.6},{"v":-0.302,"k":23.7,"lo":20.5,"hi":27.5},{"v":-0.227,"k":28,"lo":24.5,"hi":32.5},{"v":-0.152,"k":32.3,"lo":28,"hi":37.5},{"v":-0.077,"k":37.3,"lo":32.5,"hi":44},{"v":-0.002,"k":47.3,"lo":41,"hi":56},{"v":0.073,"k":57.3,"lo":50,"hi":70},{"v":0.148,"k":74,"lo":64,"hi":92},{"v":0.223,"k":109,"lo":95,"hi":125},{"v":0.298,"k":159,"lo":145,"hi":166},{"v":0.373,"k":115.7,"lo":100,"hi":130},{"v":0.448,"k":97.3,"lo":88,"hi":106},{"v":0.523,"k":90.7,"lo":82,"hi":99},{"v":0.598,"k":85.7,"lo":78,"hi":94},{"v":0.673,"k":80.7,"lo":73,"hi":89},{"v":0.748,"k":74,"lo":24,"hi":84},{"v":0.823,"k":20.7,"lo":18,"hi":72},{"v":0.898,"k":18,"lo":15.8,"hi":21},{"v":0.973,"k":15.7,"lo":13.8,"hi":18.2},{"v":1.048,"k":13.3,"lo":11.7,"hi":15.4},{"v":1.123,"k":11.3,"lo":9.9,"hi":13.1},{"v":1.198,"k":9.7,"lo":8.5,"hi":11.2},{"v":1.273,"k":8,"lo":7,"hi":9.3},{"v":1.348,"k":7,"lo":6.1,"hi":8.1},{"v":1.423,"k":6,"lo":5.2,"hi":7},{"v":1.498,"k":5.3,"lo":4.6,"hi":6.2},{"v":1.573,"k":4.7,"lo":4.1,"hi":5.5},{"v":1.648,"k":4,"lo":3.5,"hi":4.7},{"v":1.723,"k":3.7,"lo":3.2,"hi":4.3},{"v":1.798,"k":3.3,"lo":2.9,"hi":3.9},{"v":1.873,"k":3,"lo":2.6,"hi":3.5},{"v":1.948,"k":2.7,"lo":2.3,"hi":3.2},{"v":2.023,"k":2.3,"lo":2,"hi":2.8},{"v":2.098,"k":2.3,"lo":2,"hi":2.7},{"v":2.173,"k":2,"lo":1.7,"hi":2.4},{"v":2.248,"k":2,"lo":1.7,"hi":2.3},{"v":2.323,"k":2,"lo":1.7,"hi":2.3},{"v":2.398,"k":2,"lo":1.7,"hi":2.3}]},
"encoding":{"x":{"field":"v","type":"quantitative","scale":{"domain":[-1.52,2.56],"nice":false,"zero":false},"axis":{"values":[0,2.5],"format":".1f","title":"PMI"}}},
"layer":[
{"mark":{"type":"area","interpolate":"step-after","color":"#ff0000","opacity":0.4},"encoding":{"y":{"field":"hi","type":"quantitative","scale":{"domain":[0,173.4],"nice":false},"axis":null},"y2":{"field":"lo"}}},
{"mark":{"type":"line","interpolate":"step-after","color":"#ff0000","strokeWidth":5,"opacity":0.7},"encoding":{"y":{"field":"k","type":"quantitative","axis":null}}},
{"mark":{"type":"line","interpolate":"step-after","color":"#000","strokeWidth":1.7},"encoding":{"y":{"field":"k","type":"quantitative","axis":null}}}]}
],"spacing":7.1,"bounds":"flush"}
],"spacing":42.9,"bounds":"flush"}
],"spacing":291.4,"bounds":"flush"}
